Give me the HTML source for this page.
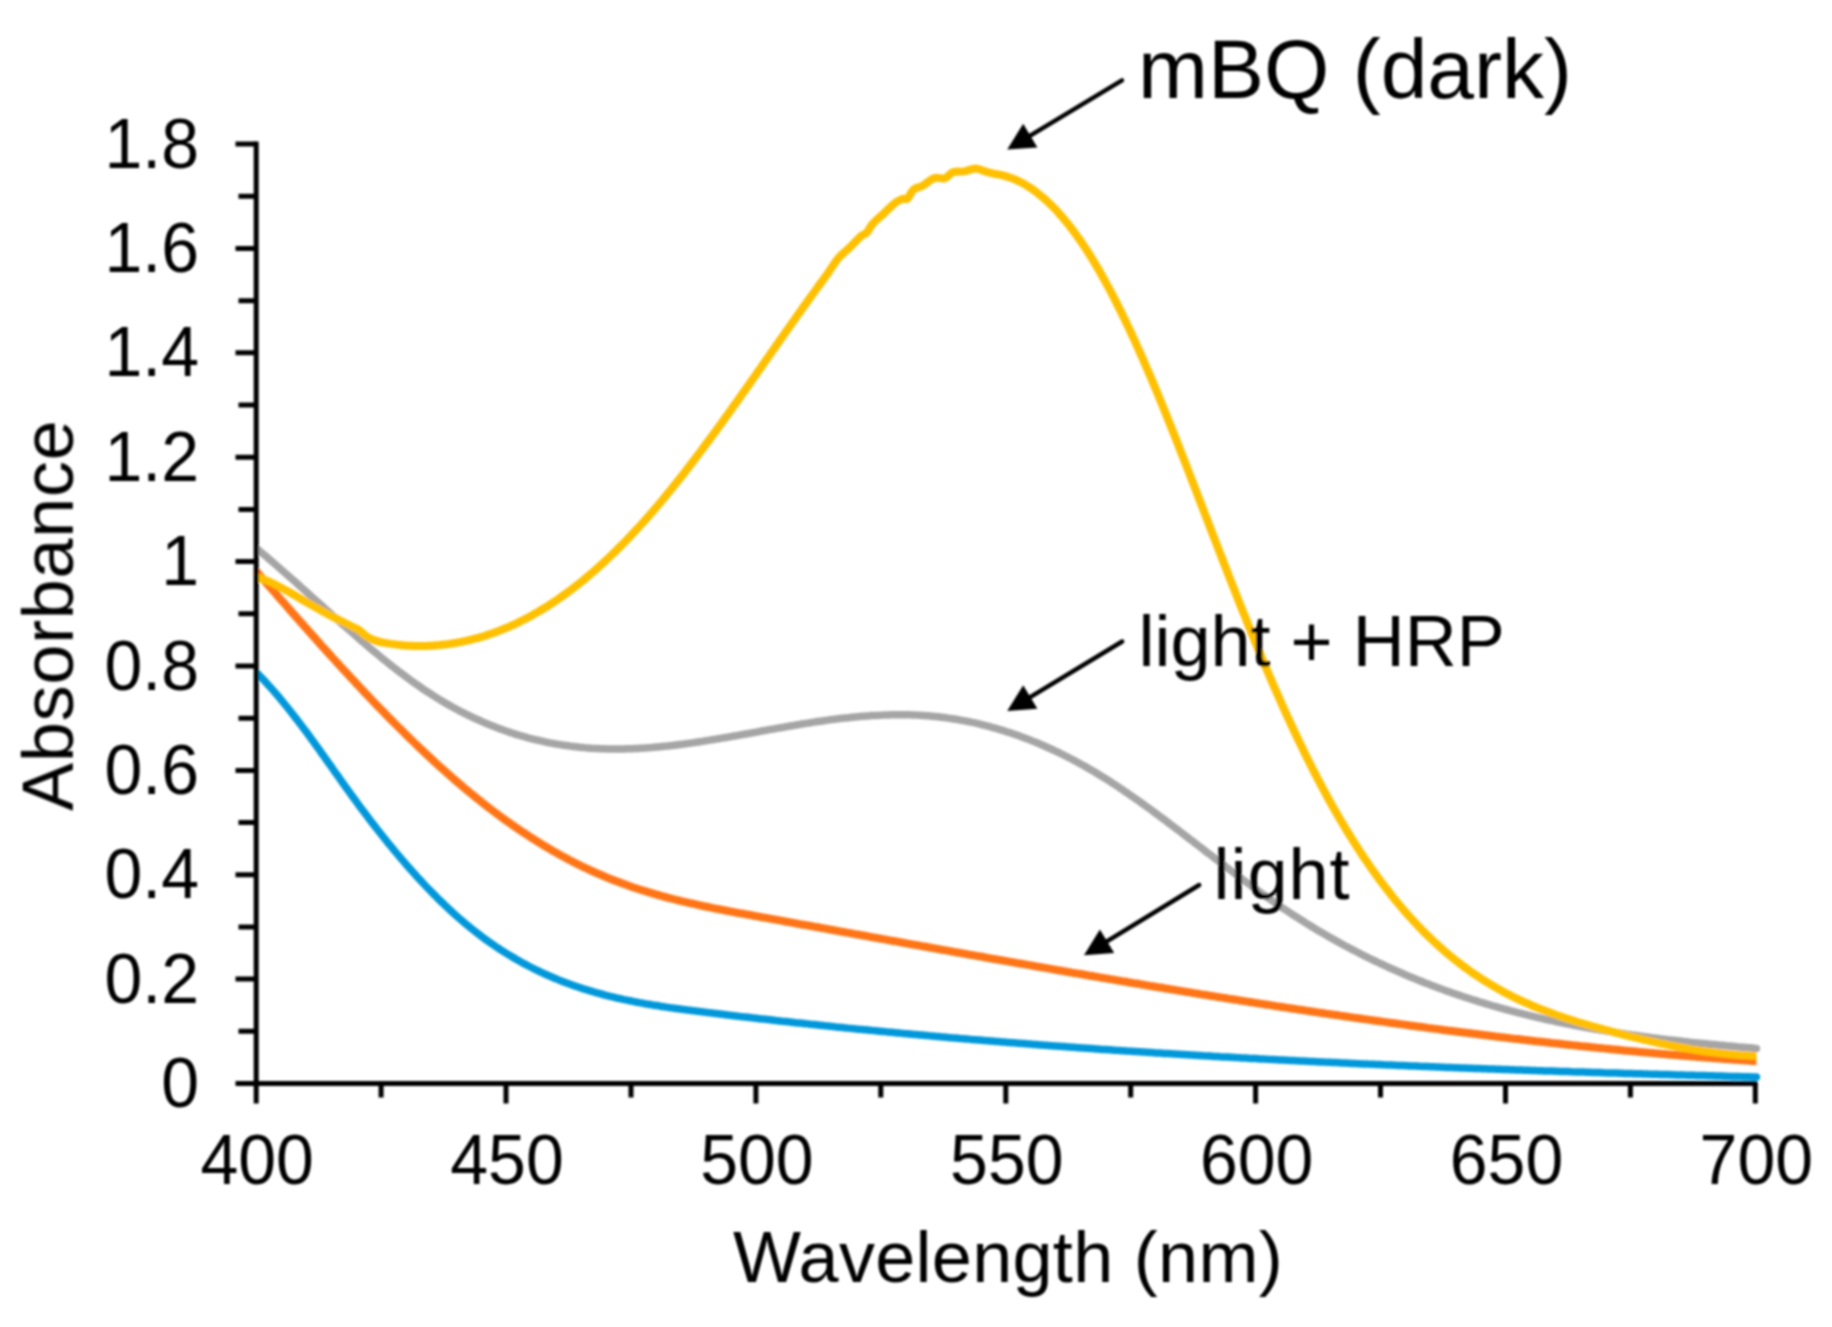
<!DOCTYPE html><html><head><meta charset="utf-8"><style>html,body{margin:0;padding:0;background:#fff;overflow:hidden;width:1832px;height:1327px;}svg{display:block;}text{font-family:"Liberation Sans",Arial,sans-serif;fill:#000;}</style></head><body>
<div id="w"><svg width="1832" height="1327" viewBox="0 0 1832 1327">
<defs><filter id="bl" x="0" y="0" width="100%" height="100%" filterUnits="userSpaceOnUse"><feGaussianBlur stdDeviation="1.00"/></filter></defs>
<rect width="1832" height="1327" fill="#fff"/>
<g filter="url(#bl)">
<path d="M256.0 672.1 C256.7 672.8 258.7 674.8 260.0 676.2 C261.3 677.5 262.7 678.9 264.0 680.3 C265.3 681.8 266.7 683.2 268.0 684.7 C269.3 686.1 270.7 687.6 272.0 689.1 C273.3 690.6 274.7 692.2 276.0 693.7 C277.3 695.3 278.7 696.8 280.0 698.4 C281.3 700.0 282.7 701.6 284.0 703.3 C285.3 704.9 286.7 706.6 288.0 708.2 C289.3 709.9 290.7 711.6 292.0 713.3 C293.3 715.0 294.7 716.7 296.0 718.4 C297.3 720.1 298.7 721.9 300.0 723.6 C301.3 725.4 302.7 727.2 304.0 728.9 C305.3 730.7 306.7 732.5 308.0 734.3 C309.3 736.1 310.7 737.9 312.0 739.8 C313.3 741.6 314.7 743.4 316.0 745.3 C317.3 747.1 318.7 749.0 320.0 750.8 C321.3 752.7 322.7 754.6 324.0 756.4 C325.3 758.3 326.7 760.2 328.0 762.1 C329.3 763.9 330.7 765.8 332.0 767.7 C333.3 769.6 334.7 771.5 336.0 773.4 C337.3 775.2 338.7 777.1 340.0 779.0 C341.3 780.9 342.7 782.8 344.0 784.6 C345.3 786.5 346.7 788.4 348.0 790.2 C349.3 792.1 350.7 793.9 352.0 795.8 C353.3 797.6 354.7 799.4 356.0 801.2 C357.3 803.1 358.7 804.9 360.0 806.7 C361.3 808.5 362.7 810.3 364.0 812.0 C365.3 813.8 366.7 815.6 368.0 817.3 C369.3 819.1 370.7 820.8 372.0 822.6 C373.3 824.3 374.7 826.0 376.0 827.7 C377.3 829.4 378.7 831.1 380.0 832.8 C381.3 834.5 382.7 836.2 384.0 837.8 C385.3 839.5 386.7 841.2 388.0 842.8 C389.3 844.4 390.7 846.1 392.0 847.7 C393.3 849.3 394.7 850.9 396.0 852.5 C397.3 854.1 398.7 855.7 400.0 857.3 C401.3 858.8 402.7 860.4 404.0 861.9 C405.3 863.5 406.7 865.0 408.0 866.5 C409.3 868.0 410.7 869.6 412.0 871.0 C413.3 872.5 414.7 874.0 416.0 875.5 C417.3 877.0 418.7 878.4 420.0 879.9 C421.3 881.3 422.7 882.7 424.0 884.1 C425.3 885.6 426.7 887.0 428.0 888.4 C429.3 889.7 430.7 891.1 432.0 892.5 C433.3 893.8 434.7 895.2 436.0 896.5 C437.3 897.9 438.7 899.2 440.0 900.5 C441.3 901.8 442.7 903.1 444.0 904.3 C445.3 905.6 446.7 906.9 448.0 908.1 C449.3 909.4 450.7 910.6 452.0 911.8 C453.3 913.1 454.7 914.3 456.0 915.4 C457.3 916.6 458.7 917.8 460.0 919.0 C461.3 920.1 462.7 921.3 464.0 922.4 C465.3 923.5 466.7 924.6 468.0 925.7 C469.3 926.8 470.7 927.9 472.0 929.0 C473.3 930.1 474.7 931.1 476.0 932.1 C477.3 933.2 478.7 934.2 480.0 935.2 C481.3 936.2 482.7 937.2 484.0 938.2 C485.3 939.2 486.7 940.2 488.0 941.1 C489.3 942.1 490.7 943.0 492.0 943.9 C493.3 944.8 494.7 945.8 496.0 946.7 C497.3 947.6 498.7 948.4 500.0 949.3 C501.3 950.2 502.7 951.0 504.0 951.9 C505.3 952.7 506.7 953.6 508.0 954.4 C509.3 955.2 510.7 956.0 512.0 956.8 C513.3 957.6 514.7 958.4 516.0 959.1 C517.3 959.9 518.7 960.7 520.0 961.4 C521.3 962.2 522.7 962.9 524.0 963.6 C525.3 964.3 526.7 965.0 528.0 965.7 C529.3 966.4 530.7 967.1 532.0 967.8 C533.3 968.5 534.7 969.1 536.0 969.8 C537.3 970.4 538.7 971.1 540.0 971.7 C541.3 972.4 542.7 973.0 544.0 973.6 C545.3 974.2 546.7 974.8 548.0 975.4 C549.3 976.0 550.7 976.6 552.0 977.1 C553.3 977.7 554.7 978.2 556.0 978.8 C557.3 979.3 558.7 979.9 560.0 980.4 C561.3 980.9 562.7 981.5 564.0 982.0 C565.3 982.5 566.7 983.0 568.0 983.5 C569.3 984.0 570.7 984.5 572.0 984.9 C573.3 985.4 574.7 985.9 576.0 986.3 C577.3 986.8 578.7 987.2 580.0 987.7 C581.3 988.1 582.7 988.6 584.0 989.0 C585.3 989.4 586.7 989.8 588.0 990.2 C589.3 990.6 590.7 991.0 592.0 991.4 C593.3 991.8 594.7 992.2 596.0 992.6 C597.3 993.0 598.7 993.3 600.0 993.7 C601.3 994.1 602.7 994.4 604.0 994.8 C605.3 995.1 606.7 995.5 608.0 995.8 C609.3 996.1 610.7 996.5 612.0 996.8 C613.3 997.1 614.7 997.4 616.0 997.8 C617.3 998.1 618.7 998.4 620.0 998.7 C621.3 999.0 622.7 999.3 624.0 999.6 C625.3 999.8 626.7 1000.1 628.0 1000.4 C629.3 1000.7 630.7 1000.9 632.0 1001.2 C633.3 1001.5 634.7 1001.7 636.0 1002.0 C637.3 1002.3 638.7 1002.5 640.0 1002.8 C641.3 1003.0 642.7 1003.2 644.0 1003.5 C645.3 1003.7 646.7 1004.0 648.0 1004.2 C649.3 1004.4 650.7 1004.6 652.0 1004.9 C653.3 1005.1 654.7 1005.3 656.0 1005.5 C657.3 1005.7 658.7 1005.9 660.0 1006.2 C661.3 1006.4 662.7 1006.6 664.0 1006.8 C665.3 1007.0 666.7 1007.2 668.0 1007.4 C669.3 1007.6 670.7 1007.7 672.0 1007.9 C673.3 1008.1 674.7 1008.3 676.0 1008.5 C677.3 1008.7 678.7 1008.9 680.0 1009.0 C681.3 1009.2 682.7 1009.4 684.0 1009.6 C685.3 1009.8 686.7 1009.9 688.0 1010.1 C689.3 1010.3 690.7 1010.4 692.0 1010.6 C693.3 1010.8 694.7 1010.9 696.0 1011.1 C697.3 1011.3 698.7 1011.4 700.0 1011.6 C701.3 1011.8 702.7 1011.9 704.0 1012.1 C705.3 1012.3 706.7 1012.4 708.0 1012.6 C709.3 1012.8 710.7 1012.9 712.0 1013.1 C713.3 1013.2 714.7 1013.4 716.0 1013.6 C717.3 1013.7 718.7 1013.9 720.0 1014.0 C721.3 1014.2 722.7 1014.4 724.0 1014.5 C725.3 1014.7 726.7 1014.8 728.0 1015.0 C729.3 1015.1 730.7 1015.3 732.0 1015.5 C733.3 1015.6 734.7 1015.8 736.0 1015.9 C737.3 1016.1 738.7 1016.2 740.0 1016.4 C741.3 1016.5 742.7 1016.7 744.0 1016.9 C745.3 1017.0 746.7 1017.2 748.0 1017.3 C749.3 1017.5 750.7 1017.6 752.0 1017.8 C753.3 1017.9 754.7 1018.1 756.0 1018.2 C757.3 1018.4 758.7 1018.5 760.0 1018.7 C761.3 1018.8 762.7 1019.0 764.0 1019.1 C765.3 1019.3 766.7 1019.4 768.0 1019.6 C769.3 1019.7 770.7 1019.9 772.0 1020.0 C773.3 1020.2 774.7 1020.3 776.0 1020.5 C777.3 1020.6 778.7 1020.8 780.0 1020.9 C781.3 1021.1 782.7 1021.2 784.0 1021.4 C785.3 1021.5 786.7 1021.7 788.0 1021.8 C789.3 1021.9 790.7 1022.1 792.0 1022.2 C793.3 1022.4 794.7 1022.5 796.0 1022.7 C797.3 1022.8 798.7 1023.0 800.0 1023.1 C801.3 1023.2 802.7 1023.4 804.0 1023.5 C805.3 1023.7 806.7 1023.8 808.0 1023.9 C809.3 1024.1 810.7 1024.2 812.0 1024.4 C813.3 1024.5 814.7 1024.7 816.0 1024.8 C817.3 1024.9 818.7 1025.1 820.0 1025.2 C821.3 1025.3 822.7 1025.5 824.0 1025.6 C825.3 1025.8 826.7 1025.9 828.0 1026.0 C829.3 1026.2 830.7 1026.3 832.0 1026.4 C833.3 1026.6 834.7 1026.7 836.0 1026.9 C837.3 1027.0 838.7 1027.1 840.0 1027.3 C841.3 1027.4 842.7 1027.5 844.0 1027.7 C845.3 1027.8 846.7 1027.9 848.0 1028.1 C849.3 1028.2 850.7 1028.3 852.0 1028.5 C853.3 1028.6 854.7 1028.7 856.0 1028.9 C857.3 1029.0 858.7 1029.1 860.0 1029.3 C861.3 1029.4 862.7 1029.5 864.0 1029.7 C865.3 1029.8 866.7 1029.9 868.0 1030.0 C869.3 1030.2 870.7 1030.3 872.0 1030.4 C873.3 1030.6 874.7 1030.7 876.0 1030.8 C877.3 1031.0 878.7 1031.1 880.0 1031.2 C881.3 1031.3 882.7 1031.5 884.0 1031.6 C885.3 1031.7 886.7 1031.8 888.0 1032.0 C889.3 1032.1 890.7 1032.2 892.0 1032.3 C893.3 1032.5 894.7 1032.6 896.0 1032.7 C897.3 1032.8 898.7 1033.0 900.0 1033.1 C901.3 1033.2 902.7 1033.3 904.0 1033.5 C905.3 1033.6 906.7 1033.7 908.0 1033.8 C909.3 1034.0 910.7 1034.1 912.0 1034.2 C913.3 1034.3 914.7 1034.4 916.0 1034.6 C917.3 1034.7 918.7 1034.8 920.0 1034.9 C921.3 1035.0 922.7 1035.2 924.0 1035.3 C925.3 1035.4 926.7 1035.5 928.0 1035.6 C929.3 1035.8 930.7 1035.9 932.0 1036.0 C933.3 1036.1 934.7 1036.2 936.0 1036.4 C937.3 1036.5 938.7 1036.6 940.0 1036.7 C941.3 1036.8 942.7 1036.9 944.0 1037.1 C945.3 1037.2 946.7 1037.3 948.0 1037.4 C949.3 1037.5 950.7 1037.6 952.0 1037.8 C953.3 1037.9 954.7 1038.0 956.0 1038.1 C957.3 1038.2 958.7 1038.3 960.0 1038.4 C961.3 1038.6 962.7 1038.7 964.0 1038.8 C965.3 1038.9 966.7 1039.0 968.0 1039.1 C969.3 1039.2 970.7 1039.3 972.0 1039.5 C973.3 1039.6 974.7 1039.7 976.0 1039.8 C977.3 1039.9 978.7 1040.0 980.0 1040.1 C981.3 1040.2 982.7 1040.3 984.0 1040.4 C985.3 1040.6 986.7 1040.7 988.0 1040.8 C989.3 1040.9 990.7 1041.0 992.0 1041.1 C993.3 1041.2 994.7 1041.3 996.0 1041.4 C997.3 1041.5 998.7 1041.6 1000.0 1041.7 C1001.3 1041.9 1002.7 1042.0 1004.0 1042.1 C1005.3 1042.2 1006.7 1042.3 1008.0 1042.4 C1009.3 1042.5 1010.7 1042.6 1012.0 1042.7 C1013.3 1042.8 1014.7 1042.9 1016.0 1043.0 C1017.3 1043.1 1018.7 1043.2 1020.0 1043.3 C1021.3 1043.4 1022.7 1043.5 1024.0 1043.6 C1025.3 1043.7 1026.7 1043.8 1028.0 1043.9 C1029.3 1044.0 1030.7 1044.1 1032.0 1044.2 C1033.3 1044.4 1034.7 1044.5 1036.0 1044.6 C1037.3 1044.7 1038.7 1044.8 1040.0 1044.9 C1041.3 1045.0 1042.7 1045.1 1044.0 1045.2 C1045.3 1045.3 1046.7 1045.4 1048.0 1045.5 C1049.3 1045.6 1050.7 1045.7 1052.0 1045.8 C1053.3 1045.9 1054.7 1046.0 1056.0 1046.0 C1057.3 1046.1 1058.7 1046.2 1060.0 1046.3 C1061.3 1046.4 1062.7 1046.5 1064.0 1046.6 C1065.3 1046.7 1066.7 1046.8 1068.0 1046.9 C1069.3 1047.0 1070.7 1047.1 1072.0 1047.2 C1073.3 1047.3 1074.7 1047.4 1076.0 1047.5 C1077.3 1047.6 1078.7 1047.7 1080.0 1047.8 C1081.3 1047.9 1082.7 1048.0 1084.0 1048.1 C1085.3 1048.2 1086.7 1048.3 1088.0 1048.3 C1089.3 1048.4 1090.7 1048.5 1092.0 1048.6 C1093.3 1048.7 1094.7 1048.8 1096.0 1048.9 C1097.3 1049.0 1098.7 1049.1 1100.0 1049.2 C1101.3 1049.3 1102.7 1049.4 1104.0 1049.4 C1105.3 1049.5 1106.7 1049.6 1108.0 1049.7 C1109.3 1049.8 1110.7 1049.9 1112.0 1050.0 C1113.3 1050.1 1114.7 1050.2 1116.0 1050.3 C1117.3 1050.3 1118.7 1050.4 1120.0 1050.5 C1121.3 1050.6 1122.7 1050.7 1124.0 1050.8 C1125.3 1050.9 1126.7 1051.0 1128.0 1051.1 C1129.3 1051.1 1130.7 1051.2 1132.0 1051.3 C1133.3 1051.4 1134.7 1051.5 1136.0 1051.6 C1137.3 1051.7 1138.7 1051.8 1140.0 1051.8 C1141.3 1051.9 1142.7 1052.0 1144.0 1052.1 C1145.3 1052.2 1146.7 1052.3 1148.0 1052.3 C1149.3 1052.4 1150.7 1052.5 1152.0 1052.6 C1153.3 1052.7 1154.7 1052.8 1156.0 1052.9 C1157.3 1052.9 1158.7 1053.0 1160.0 1053.1 C1161.3 1053.2 1162.7 1053.3 1164.0 1053.4 C1165.3 1053.4 1166.7 1053.5 1168.0 1053.6 C1169.3 1053.7 1170.7 1053.8 1172.0 1053.8 C1173.3 1053.9 1174.7 1054.0 1176.0 1054.1 C1177.3 1054.2 1178.7 1054.3 1180.0 1054.3 C1181.3 1054.4 1182.7 1054.5 1184.0 1054.6 C1185.3 1054.7 1186.7 1054.7 1188.0 1054.8 C1189.3 1054.9 1190.7 1055.0 1192.0 1055.0 C1193.3 1055.1 1194.7 1055.2 1196.0 1055.3 C1197.3 1055.4 1198.7 1055.4 1200.0 1055.5 C1201.3 1055.6 1202.7 1055.7 1204.0 1055.8 C1205.3 1055.8 1206.7 1055.9 1208.0 1056.0 C1209.3 1056.1 1210.7 1056.1 1212.0 1056.2 C1213.3 1056.3 1214.7 1056.4 1216.0 1056.4 C1217.3 1056.5 1218.7 1056.6 1220.0 1056.7 C1221.3 1056.7 1222.7 1056.8 1224.0 1056.9 C1225.3 1057.0 1226.7 1057.0 1228.0 1057.1 C1229.3 1057.2 1230.7 1057.3 1232.0 1057.3 C1233.3 1057.4 1234.7 1057.5 1236.0 1057.6 C1237.3 1057.6 1238.7 1057.7 1240.0 1057.8 C1241.3 1057.9 1242.7 1057.9 1244.0 1058.0 C1245.3 1058.1 1246.7 1058.1 1248.0 1058.2 C1249.3 1058.3 1250.7 1058.4 1252.0 1058.4 C1253.3 1058.5 1254.7 1058.6 1256.0 1058.6 C1257.3 1058.7 1258.7 1058.8 1260.0 1058.9 C1261.3 1058.9 1262.7 1059.0 1264.0 1059.1 C1265.3 1059.1 1266.7 1059.2 1268.0 1059.3 C1269.3 1059.3 1270.7 1059.4 1272.0 1059.5 C1273.3 1059.6 1274.7 1059.6 1276.0 1059.7 C1277.3 1059.8 1278.7 1059.8 1280.0 1059.9 C1281.3 1060.0 1282.7 1060.0 1284.0 1060.1 C1285.3 1060.2 1286.7 1060.2 1288.0 1060.3 C1289.3 1060.4 1290.7 1060.4 1292.0 1060.5 C1293.3 1060.6 1294.7 1060.6 1296.0 1060.7 C1297.3 1060.8 1298.7 1060.8 1300.0 1060.9 C1301.3 1061.0 1302.7 1061.0 1304.0 1061.1 C1305.3 1061.2 1306.7 1061.2 1308.0 1061.3 C1309.3 1061.4 1310.7 1061.4 1312.0 1061.5 C1313.3 1061.6 1314.7 1061.6 1316.0 1061.7 C1317.3 1061.8 1318.7 1061.8 1320.0 1061.9 C1321.3 1061.9 1322.7 1062.0 1324.0 1062.1 C1325.3 1062.1 1326.7 1062.2 1328.0 1062.3 C1329.3 1062.3 1330.7 1062.4 1332.0 1062.4 C1333.3 1062.5 1334.7 1062.6 1336.0 1062.6 C1337.3 1062.7 1338.7 1062.8 1340.0 1062.8 C1341.3 1062.9 1342.7 1062.9 1344.0 1063.0 C1345.3 1063.1 1346.7 1063.1 1348.0 1063.2 C1349.3 1063.3 1350.7 1063.3 1352.0 1063.4 C1353.3 1063.4 1354.7 1063.5 1356.0 1063.6 C1357.3 1063.6 1358.7 1063.7 1360.0 1063.7 C1361.3 1063.8 1362.7 1063.9 1364.0 1063.9 C1365.3 1064.0 1366.7 1064.0 1368.0 1064.1 C1369.3 1064.1 1370.7 1064.2 1372.0 1064.3 C1373.3 1064.3 1374.7 1064.4 1376.0 1064.4 C1377.3 1064.5 1378.7 1064.6 1380.0 1064.6 C1381.3 1064.7 1382.7 1064.7 1384.0 1064.8 C1385.3 1064.8 1386.7 1064.9 1388.0 1065.0 C1389.3 1065.0 1390.7 1065.1 1392.0 1065.1 C1393.3 1065.2 1394.7 1065.2 1396.0 1065.3 C1397.3 1065.4 1398.7 1065.4 1400.0 1065.5 C1401.3 1065.5 1402.7 1065.6 1404.0 1065.6 C1405.3 1065.7 1406.7 1065.7 1408.0 1065.8 C1409.3 1065.9 1410.7 1065.9 1412.0 1066.0 C1413.3 1066.0 1414.7 1066.1 1416.0 1066.1 C1417.3 1066.2 1418.7 1066.2 1420.0 1066.3 C1421.3 1066.3 1422.7 1066.4 1424.0 1066.5 C1425.3 1066.5 1426.7 1066.6 1428.0 1066.6 C1429.3 1066.7 1430.7 1066.7 1432.0 1066.8 C1433.3 1066.8 1434.7 1066.9 1436.0 1066.9 C1437.3 1067.0 1438.7 1067.0 1440.0 1067.1 C1441.3 1067.1 1442.7 1067.2 1444.0 1067.2 C1445.3 1067.3 1446.7 1067.4 1448.0 1067.4 C1449.3 1067.5 1450.7 1067.5 1452.0 1067.6 C1453.3 1067.6 1454.7 1067.7 1456.0 1067.7 C1457.3 1067.8 1458.7 1067.8 1460.0 1067.9 C1461.3 1067.9 1462.7 1068.0 1464.0 1068.0 C1465.3 1068.1 1466.7 1068.1 1468.0 1068.2 C1469.3 1068.2 1470.7 1068.3 1472.0 1068.3 C1473.3 1068.4 1474.7 1068.4 1476.0 1068.5 C1477.3 1068.5 1478.7 1068.6 1480.0 1068.6 C1481.3 1068.7 1482.7 1068.7 1484.0 1068.8 C1485.3 1068.8 1486.7 1068.9 1488.0 1068.9 C1489.3 1069.0 1490.7 1069.0 1492.0 1069.0 C1493.3 1069.1 1494.7 1069.1 1496.0 1069.2 C1497.3 1069.2 1498.7 1069.3 1500.0 1069.3 C1501.3 1069.4 1502.7 1069.4 1504.0 1069.5 C1505.3 1069.5 1506.7 1069.6 1508.0 1069.6 C1509.3 1069.7 1510.7 1069.7 1512.0 1069.8 C1513.3 1069.8 1514.7 1069.9 1516.0 1069.9 C1517.3 1069.9 1518.7 1070.0 1520.0 1070.0 C1521.3 1070.1 1522.7 1070.1 1524.0 1070.2 C1525.3 1070.2 1526.7 1070.3 1528.0 1070.3 C1529.3 1070.4 1530.7 1070.4 1532.0 1070.4 C1533.3 1070.5 1534.7 1070.5 1536.0 1070.6 C1537.3 1070.6 1538.7 1070.7 1540.0 1070.7 C1541.3 1070.8 1542.7 1070.8 1544.0 1070.9 C1545.3 1070.9 1546.7 1070.9 1548.0 1071.0 C1549.3 1071.0 1550.7 1071.1 1552.0 1071.1 C1553.3 1071.2 1554.7 1071.2 1556.0 1071.2 C1557.3 1071.3 1558.7 1071.3 1560.0 1071.4 C1561.3 1071.4 1562.7 1071.5 1564.0 1071.5 C1565.3 1071.5 1566.7 1071.6 1568.0 1071.6 C1569.3 1071.7 1570.7 1071.7 1572.0 1071.8 C1573.3 1071.8 1574.7 1071.8 1576.0 1071.9 C1577.3 1071.9 1578.7 1072.0 1580.0 1072.0 C1581.3 1072.1 1582.7 1072.1 1584.0 1072.1 C1585.3 1072.2 1586.7 1072.2 1588.0 1072.3 C1589.3 1072.3 1590.7 1072.4 1592.0 1072.4 C1593.3 1072.4 1594.7 1072.5 1596.0 1072.5 C1597.3 1072.6 1598.7 1072.6 1600.0 1072.6 C1601.3 1072.7 1602.7 1072.7 1604.0 1072.8 C1605.3 1072.8 1606.7 1072.8 1608.0 1072.9 C1609.3 1072.9 1610.7 1073.0 1612.0 1073.0 C1613.3 1073.0 1614.7 1073.1 1616.0 1073.1 C1617.3 1073.2 1618.7 1073.2 1620.0 1073.2 C1621.3 1073.3 1622.7 1073.3 1624.0 1073.4 C1625.3 1073.4 1626.7 1073.4 1628.0 1073.5 C1629.3 1073.5 1630.7 1073.6 1632.0 1073.6 C1633.3 1073.6 1634.7 1073.7 1636.0 1073.7 C1637.3 1073.8 1638.7 1073.8 1640.0 1073.8 C1641.3 1073.9 1642.7 1073.9 1644.0 1073.9 C1645.3 1074.0 1646.7 1074.0 1648.0 1074.1 C1649.3 1074.1 1650.7 1074.1 1652.0 1074.2 C1653.3 1074.2 1654.7 1074.3 1656.0 1074.3 C1657.3 1074.3 1658.7 1074.4 1660.0 1074.4 C1661.3 1074.4 1662.7 1074.5 1664.0 1074.5 C1665.3 1074.6 1666.7 1074.6 1668.0 1074.6 C1669.3 1074.7 1670.7 1074.7 1672.0 1074.7 C1673.3 1074.8 1674.7 1074.8 1676.0 1074.9 C1677.3 1074.9 1678.7 1074.9 1680.0 1075.0 C1681.3 1075.0 1682.7 1075.0 1684.0 1075.1 C1685.3 1075.1 1686.7 1075.1 1688.0 1075.2 C1689.3 1075.2 1690.7 1075.3 1692.0 1075.3 C1693.3 1075.3 1694.7 1075.4 1696.0 1075.4 C1697.3 1075.4 1698.7 1075.5 1700.0 1075.5 C1701.3 1075.5 1702.7 1075.6 1704.0 1075.6 C1705.3 1075.7 1706.7 1075.7 1708.0 1075.7 C1709.3 1075.8 1710.7 1075.8 1712.0 1075.8 C1713.3 1075.9 1714.7 1075.9 1716.0 1075.9 C1717.3 1076.0 1718.7 1076.0 1720.0 1076.0 C1721.3 1076.1 1722.7 1076.1 1724.0 1076.2 C1725.3 1076.2 1726.7 1076.2 1728.0 1076.3 C1729.3 1076.3 1730.7 1076.3 1732.0 1076.4 C1733.3 1076.4 1734.7 1076.4 1736.0 1076.5 C1737.3 1076.5 1738.7 1076.5 1740.0 1076.6 C1741.3 1076.6 1742.7 1076.6 1744.0 1076.7 C1745.3 1076.7 1746.7 1076.7 1748.0 1076.8 C1749.3 1076.8 1750.7 1076.8 1752.0 1076.9 C1753.3 1076.9 1755.3 1077.0 1756.0 1077.0 C1756.7 1077.0 1756.3 1077.0 1756.4 1077.0" fill="none" stroke="#0098DA" stroke-width="7.5" stroke-linejoin="round"/>
<path d="M256.0 571.0 C256.7 571.8 258.7 574.1 260.0 575.6 C261.3 577.2 262.7 578.7 264.0 580.2 C265.3 581.8 266.7 583.3 268.0 584.8 C269.3 586.3 270.7 587.9 272.0 589.4 C273.3 590.9 274.7 592.5 276.0 594.0 C277.3 595.5 278.7 597.0 280.0 598.6 C281.3 600.1 282.7 601.6 284.0 603.1 C285.3 604.7 286.7 606.2 288.0 607.7 C289.3 609.2 290.7 610.7 292.0 612.3 C293.3 613.8 294.7 615.3 296.0 616.8 C297.3 618.3 298.7 619.8 300.0 621.3 C301.3 622.8 302.7 624.3 304.0 625.8 C305.3 627.3 306.7 628.8 308.0 630.3 C309.3 631.8 310.7 633.3 312.0 634.8 C313.3 636.3 314.7 637.8 316.0 639.3 C317.3 640.8 318.7 642.3 320.0 643.8 C321.3 645.3 322.7 646.8 324.0 648.2 C325.3 649.7 326.7 651.2 328.0 652.7 C329.3 654.1 330.7 655.6 332.0 657.1 C333.3 658.5 334.7 660.0 336.0 661.5 C337.3 662.9 338.7 664.4 340.0 665.9 C341.3 667.3 342.7 668.8 344.0 670.2 C345.3 671.7 346.7 673.1 348.0 674.5 C349.3 676.0 350.7 677.4 352.0 678.9 C353.3 680.3 354.7 681.7 356.0 683.2 C357.3 684.6 358.7 686.0 360.0 687.4 C361.3 688.8 362.7 690.3 364.0 691.7 C365.3 693.1 366.7 694.5 368.0 695.9 C369.3 697.3 370.7 698.7 372.0 700.1 C373.3 701.5 374.7 702.9 376.0 704.3 C377.3 705.6 378.7 707.0 380.0 708.4 C381.3 709.8 382.7 711.1 384.0 712.5 C385.3 713.9 386.7 715.2 388.0 716.6 C389.3 718.0 390.7 719.3 392.0 720.7 C393.3 722.0 394.7 723.3 396.0 724.7 C397.3 726.0 398.7 727.3 400.0 728.7 C401.3 730.0 402.7 731.3 404.0 732.6 C405.3 734.0 406.7 735.3 408.0 736.6 C409.3 737.9 410.7 739.2 412.0 740.5 C413.3 741.8 414.7 743.0 416.0 744.3 C417.3 745.6 418.7 746.9 420.0 748.2 C421.3 749.4 422.7 750.7 424.0 751.9 C425.3 753.2 426.7 754.5 428.0 755.7 C429.3 756.9 430.7 758.2 432.0 759.4 C433.3 760.7 434.7 761.9 436.0 763.1 C437.3 764.3 438.7 765.5 440.0 766.7 C441.3 767.9 442.7 769.1 444.0 770.3 C445.3 771.5 446.7 772.7 448.0 773.9 C449.3 775.1 450.7 776.2 452.0 777.4 C453.3 778.6 454.7 779.7 456.0 780.9 C457.3 782.0 458.7 783.2 460.0 784.3 C461.3 785.5 462.7 786.6 464.0 787.7 C465.3 788.8 466.7 789.9 468.0 791.0 C469.3 792.2 470.7 793.3 472.0 794.3 C473.3 795.4 474.7 796.5 476.0 797.6 C477.3 798.7 478.7 799.7 480.0 800.8 C481.3 801.9 482.7 802.9 484.0 804.0 C485.3 805.0 486.7 806.0 488.0 807.1 C489.3 808.1 490.7 809.1 492.0 810.1 C493.3 811.1 494.7 812.1 496.0 813.1 C497.3 814.1 498.7 815.1 500.0 816.1 C501.3 817.1 502.7 818.1 504.0 819.0 C505.3 820.0 506.7 820.9 508.0 821.9 C509.3 822.8 510.7 823.8 512.0 824.7 C513.3 825.6 514.7 826.6 516.0 827.5 C517.3 828.4 518.7 829.3 520.0 830.2 C521.3 831.1 522.7 832.0 524.0 832.9 C525.3 833.8 526.7 834.6 528.0 835.5 C529.3 836.4 530.7 837.2 532.0 838.1 C533.3 839.0 534.7 839.8 536.0 840.6 C537.3 841.5 538.7 842.3 540.0 843.1 C541.3 843.9 542.7 844.8 544.0 845.6 C545.3 846.4 546.7 847.2 548.0 847.9 C549.3 848.7 550.7 849.5 552.0 850.3 C553.3 851.1 554.7 851.8 556.0 852.6 C557.3 853.3 558.7 854.1 560.0 854.8 C561.3 855.6 562.7 856.3 564.0 857.0 C565.3 857.7 566.7 858.5 568.0 859.2 C569.3 859.9 570.7 860.6 572.0 861.3 C573.3 861.9 574.7 862.6 576.0 863.3 C577.3 864.0 578.7 864.6 580.0 865.3 C581.3 866.0 582.7 866.6 584.0 867.3 C585.3 867.9 586.7 868.5 588.0 869.2 C589.3 869.8 590.7 870.4 592.0 871.0 C593.3 871.6 594.7 872.2 596.0 872.8 C597.3 873.4 598.7 874.0 600.0 874.6 C601.3 875.1 602.7 875.7 604.0 876.3 C605.3 876.8 606.7 877.4 608.0 877.9 C609.3 878.5 610.7 879.0 612.0 879.5 C613.3 880.1 614.7 880.6 616.0 881.1 C617.3 881.6 618.7 882.1 620.0 882.6 C621.3 883.1 622.7 883.6 624.0 884.1 C625.3 884.6 626.7 885.0 628.0 885.5 C629.3 886.0 630.7 886.4 632.0 886.9 C633.3 887.4 634.7 887.8 636.0 888.2 C637.3 888.7 638.7 889.1 640.0 889.5 C641.3 890.0 642.7 890.4 644.0 890.8 C645.3 891.2 646.7 891.6 648.0 892.0 C649.3 892.5 650.7 892.9 652.0 893.2 C653.3 893.6 654.7 894.0 656.0 894.4 C657.3 894.8 658.7 895.2 660.0 895.5 C661.3 895.9 662.7 896.3 664.0 896.6 C665.3 897.0 666.7 897.4 668.0 897.7 C669.3 898.1 670.7 898.4 672.0 898.7 C673.3 899.1 674.7 899.4 676.0 899.8 C677.3 900.1 678.7 900.4 680.0 900.7 C681.3 901.1 682.7 901.4 684.0 901.7 C685.3 902.0 686.7 902.3 688.0 902.6 C689.3 902.9 690.7 903.2 692.0 903.5 C693.3 903.8 694.7 904.1 696.0 904.4 C697.3 904.7 698.7 905.0 700.0 905.3 C701.3 905.6 702.7 905.9 704.0 906.2 C705.3 906.4 706.7 906.7 708.0 907.0 C709.3 907.3 710.7 907.5 712.0 907.8 C713.3 908.1 714.7 908.4 716.0 908.6 C717.3 908.9 718.7 909.1 720.0 909.4 C721.3 909.7 722.7 909.9 724.0 910.2 C725.3 910.4 726.7 910.7 728.0 911.0 C729.3 911.2 730.7 911.5 732.0 911.7 C733.3 912.0 734.7 912.2 736.0 912.5 C737.3 912.7 738.7 913.0 740.0 913.2 C741.3 913.4 742.7 913.7 744.0 913.9 C745.3 914.2 746.7 914.4 748.0 914.7 C749.3 914.9 750.7 915.1 752.0 915.4 C753.3 915.6 754.7 915.9 756.0 916.1 C757.3 916.4 758.7 916.6 760.0 916.8 C761.3 917.1 762.7 917.3 764.0 917.6 C765.3 917.8 766.7 918.0 768.0 918.3 C769.3 918.5 770.7 918.8 772.0 919.0 C773.3 919.2 774.7 919.5 776.0 919.7 C777.3 920.0 778.7 920.2 780.0 920.4 C781.3 920.7 782.7 920.9 784.0 921.2 C785.3 921.4 786.7 921.7 788.0 921.9 C789.3 922.1 790.7 922.4 792.0 922.6 C793.3 922.9 794.7 923.1 796.0 923.3 C797.3 923.6 798.7 923.8 800.0 924.1 C801.3 924.3 802.7 924.6 804.0 924.8 C805.3 925.0 806.7 925.3 808.0 925.5 C809.3 925.8 810.7 926.0 812.0 926.2 C813.3 926.5 814.7 926.7 816.0 927.0 C817.3 927.2 818.7 927.4 820.0 927.7 C821.3 927.9 822.7 928.2 824.0 928.4 C825.3 928.7 826.7 928.9 828.0 929.1 C829.3 929.4 830.7 929.6 832.0 929.9 C833.3 930.1 834.7 930.3 836.0 930.6 C837.3 930.8 838.7 931.1 840.0 931.3 C841.3 931.6 842.7 931.8 844.0 932.0 C845.3 932.3 846.7 932.5 848.0 932.8 C849.3 933.0 850.7 933.2 852.0 933.5 C853.3 933.7 854.7 934.0 856.0 934.2 C857.3 934.4 858.7 934.7 860.0 934.9 C861.3 935.2 862.7 935.4 864.0 935.7 C865.3 935.9 866.7 936.1 868.0 936.4 C869.3 936.6 870.7 936.9 872.0 937.1 C873.3 937.3 874.7 937.6 876.0 937.8 C877.3 938.1 878.7 938.3 880.0 938.5 C881.3 938.8 882.7 939.0 884.0 939.3 C885.3 939.5 886.7 939.7 888.0 940.0 C889.3 940.2 890.7 940.5 892.0 940.7 C893.3 940.9 894.7 941.2 896.0 941.4 C897.3 941.7 898.7 941.9 900.0 942.1 C901.3 942.4 902.7 942.6 904.0 942.9 C905.3 943.1 906.7 943.4 908.0 943.6 C909.3 943.8 910.7 944.1 912.0 944.3 C913.3 944.6 914.7 944.8 916.0 945.0 C917.3 945.3 918.7 945.5 920.0 945.7 C921.3 946.0 922.7 946.2 924.0 946.5 C925.3 946.7 926.7 946.9 928.0 947.2 C929.3 947.4 930.7 947.7 932.0 947.9 C933.3 948.1 934.7 948.4 936.0 948.6 C937.3 948.9 938.7 949.1 940.0 949.3 C941.3 949.6 942.7 949.8 944.0 950.1 C945.3 950.3 946.7 950.5 948.0 950.8 C949.3 951.0 950.7 951.2 952.0 951.5 C953.3 951.7 954.7 952.0 956.0 952.2 C957.3 952.4 958.7 952.7 960.0 952.9 C961.3 953.2 962.7 953.4 964.0 953.6 C965.3 953.9 966.7 954.1 968.0 954.3 C969.3 954.6 970.7 954.8 972.0 955.1 C973.3 955.3 974.7 955.5 976.0 955.8 C977.3 956.0 978.7 956.2 980.0 956.5 C981.3 956.7 982.7 956.9 984.0 957.2 C985.3 957.4 986.7 957.7 988.0 957.9 C989.3 958.1 990.7 958.4 992.0 958.6 C993.3 958.8 994.7 959.1 996.0 959.3 C997.3 959.5 998.7 959.8 1000.0 960.0 C1001.3 960.3 1002.7 960.5 1004.0 960.7 C1005.3 961.0 1006.7 961.2 1008.0 961.4 C1009.3 961.7 1010.7 961.9 1012.0 962.1 C1013.3 962.4 1014.7 962.6 1016.0 962.8 C1017.3 963.1 1018.7 963.3 1020.0 963.5 C1021.3 963.8 1022.7 964.0 1024.0 964.2 C1025.3 964.5 1026.7 964.7 1028.0 964.9 C1029.3 965.2 1030.7 965.4 1032.0 965.6 C1033.3 965.9 1034.7 966.1 1036.0 966.3 C1037.3 966.6 1038.7 966.8 1040.0 967.0 C1041.3 967.3 1042.7 967.5 1044.0 967.7 C1045.3 968.0 1046.7 968.2 1048.0 968.4 C1049.3 968.7 1050.7 968.9 1052.0 969.1 C1053.3 969.4 1054.7 969.6 1056.0 969.8 C1057.3 970.1 1058.7 970.3 1060.0 970.5 C1061.3 970.8 1062.7 971.0 1064.0 971.2 C1065.3 971.4 1066.7 971.7 1068.0 971.9 C1069.3 972.1 1070.7 972.4 1072.0 972.6 C1073.3 972.8 1074.7 973.1 1076.0 973.3 C1077.3 973.5 1078.7 973.7 1080.0 974.0 C1081.3 974.2 1082.7 974.4 1084.0 974.7 C1085.3 974.9 1086.7 975.1 1088.0 975.4 C1089.3 975.6 1090.7 975.8 1092.0 976.0 C1093.3 976.3 1094.7 976.5 1096.0 976.7 C1097.3 977.0 1098.7 977.2 1100.0 977.4 C1101.3 977.6 1102.7 977.9 1104.0 978.1 C1105.3 978.3 1106.7 978.5 1108.0 978.8 C1109.3 979.0 1110.7 979.2 1112.0 979.4 C1113.3 979.7 1114.7 979.9 1116.0 980.1 C1117.3 980.4 1118.7 980.6 1120.0 980.8 C1121.3 981.0 1122.7 981.3 1124.0 981.5 C1125.3 981.7 1126.7 981.9 1128.0 982.2 C1129.3 982.4 1130.7 982.6 1132.0 982.8 C1133.3 983.1 1134.7 983.3 1136.0 983.5 C1137.3 983.7 1138.7 983.9 1140.0 984.2 C1141.3 984.4 1142.7 984.6 1144.0 984.8 C1145.3 985.1 1146.7 985.3 1148.0 985.5 C1149.3 985.7 1150.7 986.0 1152.0 986.2 C1153.3 986.4 1154.7 986.6 1156.0 986.8 C1157.3 987.1 1158.7 987.3 1160.0 987.5 C1161.3 987.7 1162.7 987.9 1164.0 988.2 C1165.3 988.4 1166.7 988.6 1168.0 988.8 C1169.3 989.0 1170.7 989.3 1172.0 989.5 C1173.3 989.7 1174.7 989.9 1176.0 990.1 C1177.3 990.4 1178.7 990.6 1180.0 990.8 C1181.3 991.0 1182.7 991.2 1184.0 991.5 C1185.3 991.7 1186.7 991.9 1188.0 992.1 C1189.3 992.3 1190.7 992.5 1192.0 992.8 C1193.3 993.0 1194.7 993.2 1196.0 993.4 C1197.3 993.6 1198.7 993.8 1200.0 994.1 C1201.3 994.3 1202.7 994.5 1204.0 994.7 C1205.3 994.9 1206.7 995.1 1208.0 995.3 C1209.3 995.6 1210.7 995.8 1212.0 996.0 C1213.3 996.2 1214.7 996.4 1216.0 996.6 C1217.3 996.8 1218.7 997.1 1220.0 997.3 C1221.3 997.5 1222.7 997.7 1224.0 997.9 C1225.3 998.1 1226.7 998.3 1228.0 998.6 C1229.3 998.8 1230.7 999.0 1232.0 999.2 C1233.3 999.4 1234.7 999.6 1236.0 999.8 C1237.3 1000.0 1238.7 1000.2 1240.0 1000.5 C1241.3 1000.7 1242.7 1000.9 1244.0 1001.1 C1245.3 1001.3 1246.7 1001.5 1248.0 1001.7 C1249.3 1001.9 1250.7 1002.1 1252.0 1002.3 C1253.3 1002.5 1254.7 1002.8 1256.0 1003.0 C1257.3 1003.2 1258.7 1003.4 1260.0 1003.6 C1261.3 1003.8 1262.7 1004.0 1264.0 1004.2 C1265.3 1004.4 1266.7 1004.6 1268.0 1004.8 C1269.3 1005.0 1270.7 1005.2 1272.0 1005.4 C1273.3 1005.6 1274.7 1005.9 1276.0 1006.1 C1277.3 1006.3 1278.7 1006.5 1280.0 1006.7 C1281.3 1006.9 1282.7 1007.1 1284.0 1007.3 C1285.3 1007.5 1286.7 1007.7 1288.0 1007.9 C1289.3 1008.1 1290.7 1008.3 1292.0 1008.5 C1293.3 1008.7 1294.7 1008.9 1296.0 1009.1 C1297.3 1009.3 1298.7 1009.5 1300.0 1009.7 C1301.3 1009.9 1302.7 1010.1 1304.0 1010.3 C1305.3 1010.5 1306.7 1010.7 1308.0 1010.9 C1309.3 1011.1 1310.7 1011.3 1312.0 1011.5 C1313.3 1011.7 1314.7 1011.9 1316.0 1012.1 C1317.3 1012.3 1318.7 1012.5 1320.0 1012.7 C1321.3 1012.9 1322.7 1013.1 1324.0 1013.3 C1325.3 1013.5 1326.7 1013.7 1328.0 1013.9 C1329.3 1014.1 1330.7 1014.3 1332.0 1014.5 C1333.3 1014.7 1334.7 1014.9 1336.0 1015.0 C1337.3 1015.2 1338.7 1015.4 1340.0 1015.6 C1341.3 1015.8 1342.7 1016.0 1344.0 1016.2 C1345.3 1016.4 1346.7 1016.6 1348.0 1016.8 C1349.3 1017.0 1350.7 1017.2 1352.0 1017.4 C1353.3 1017.6 1354.7 1017.7 1356.0 1017.9 C1357.3 1018.1 1358.7 1018.3 1360.0 1018.5 C1361.3 1018.7 1362.7 1018.9 1364.0 1019.1 C1365.3 1019.3 1366.7 1019.5 1368.0 1019.6 C1369.3 1019.8 1370.7 1020.0 1372.0 1020.2 C1373.3 1020.4 1374.7 1020.6 1376.0 1020.8 C1377.3 1021.0 1378.7 1021.1 1380.0 1021.3 C1381.3 1021.5 1382.7 1021.7 1384.0 1021.9 C1385.3 1022.1 1386.7 1022.3 1388.0 1022.4 C1389.3 1022.6 1390.7 1022.8 1392.0 1023.0 C1393.3 1023.2 1394.7 1023.4 1396.0 1023.5 C1397.3 1023.7 1398.7 1023.9 1400.0 1024.1 C1401.3 1024.3 1402.7 1024.5 1404.0 1024.6 C1405.3 1024.8 1406.7 1025.0 1408.0 1025.2 C1409.3 1025.4 1410.7 1025.5 1412.0 1025.7 C1413.3 1025.9 1414.7 1026.1 1416.0 1026.3 C1417.3 1026.4 1418.7 1026.6 1420.0 1026.8 C1421.3 1027.0 1422.7 1027.2 1424.0 1027.3 C1425.3 1027.5 1426.7 1027.7 1428.0 1027.9 C1429.3 1028.0 1430.7 1028.2 1432.0 1028.4 C1433.3 1028.6 1434.7 1028.7 1436.0 1028.9 C1437.3 1029.1 1438.7 1029.3 1440.0 1029.4 C1441.3 1029.6 1442.7 1029.8 1444.0 1030.0 C1445.3 1030.1 1446.7 1030.3 1448.0 1030.5 C1449.3 1030.6 1450.7 1030.8 1452.0 1031.0 C1453.3 1031.2 1454.7 1031.3 1456.0 1031.5 C1457.3 1031.7 1458.7 1031.8 1460.0 1032.0 C1461.3 1032.2 1462.7 1032.3 1464.0 1032.5 C1465.3 1032.7 1466.7 1032.9 1468.0 1033.0 C1469.3 1033.2 1470.7 1033.4 1472.0 1033.5 C1473.3 1033.7 1474.7 1033.9 1476.0 1034.0 C1477.3 1034.2 1478.7 1034.4 1480.0 1034.5 C1481.3 1034.7 1482.7 1034.8 1484.0 1035.0 C1485.3 1035.2 1486.7 1035.3 1488.0 1035.5 C1489.3 1035.7 1490.7 1035.8 1492.0 1036.0 C1493.3 1036.2 1494.7 1036.3 1496.0 1036.5 C1497.3 1036.6 1498.7 1036.8 1500.0 1037.0 C1501.3 1037.1 1502.7 1037.3 1504.0 1037.4 C1505.3 1037.6 1506.7 1037.8 1508.0 1037.9 C1509.3 1038.1 1510.7 1038.2 1512.0 1038.4 C1513.3 1038.5 1514.7 1038.7 1516.0 1038.9 C1517.3 1039.0 1518.7 1039.2 1520.0 1039.3 C1521.3 1039.5 1522.7 1039.6 1524.0 1039.8 C1525.3 1039.9 1526.7 1040.1 1528.0 1040.2 C1529.3 1040.4 1530.7 1040.6 1532.0 1040.7 C1533.3 1040.9 1534.7 1041.0 1536.0 1041.2 C1537.3 1041.3 1538.7 1041.5 1540.0 1041.6 C1541.3 1041.8 1542.7 1041.9 1544.0 1042.1 C1545.3 1042.2 1546.7 1042.4 1548.0 1042.5 C1549.3 1042.7 1550.7 1042.8 1552.0 1043.0 C1553.3 1043.1 1554.7 1043.2 1556.0 1043.4 C1557.3 1043.5 1558.7 1043.7 1560.0 1043.8 C1561.3 1044.0 1562.7 1044.1 1564.0 1044.3 C1565.3 1044.4 1566.7 1044.6 1568.0 1044.7 C1569.3 1044.8 1570.7 1045.0 1572.0 1045.1 C1573.3 1045.3 1574.7 1045.4 1576.0 1045.5 C1577.3 1045.7 1578.7 1045.8 1580.0 1046.0 C1581.3 1046.1 1582.7 1046.2 1584.0 1046.4 C1585.3 1046.5 1586.7 1046.7 1588.0 1046.8 C1589.3 1046.9 1590.7 1047.1 1592.0 1047.2 C1593.3 1047.4 1594.7 1047.5 1596.0 1047.6 C1597.3 1047.8 1598.7 1047.9 1600.0 1048.0 C1601.3 1048.2 1602.7 1048.3 1604.0 1048.4 C1605.3 1048.6 1606.7 1048.7 1608.0 1048.8 C1609.3 1049.0 1610.7 1049.1 1612.0 1049.2 C1613.3 1049.4 1614.7 1049.5 1616.0 1049.6 C1617.3 1049.7 1618.7 1049.9 1620.0 1050.0 C1621.3 1050.1 1622.7 1050.3 1624.0 1050.4 C1625.3 1050.5 1626.7 1050.6 1628.0 1050.8 C1629.3 1050.9 1630.7 1051.0 1632.0 1051.2 C1633.3 1051.3 1634.7 1051.4 1636.0 1051.5 C1637.3 1051.7 1638.7 1051.8 1640.0 1051.9 C1641.3 1052.0 1642.7 1052.1 1644.0 1052.3 C1645.3 1052.4 1646.7 1052.5 1648.0 1052.6 C1649.3 1052.8 1650.7 1052.9 1652.0 1053.0 C1653.3 1053.1 1654.7 1053.2 1656.0 1053.4 C1657.3 1053.5 1658.7 1053.6 1660.0 1053.7 C1661.3 1053.8 1662.7 1053.9 1664.0 1054.1 C1665.3 1054.2 1666.7 1054.3 1668.0 1054.4 C1669.3 1054.5 1670.7 1054.6 1672.0 1054.8 C1673.3 1054.9 1674.7 1055.0 1676.0 1055.1 C1677.3 1055.2 1678.7 1055.3 1680.0 1055.4 C1681.3 1055.5 1682.7 1055.6 1684.0 1055.8 C1685.3 1055.9 1686.7 1056.0 1688.0 1056.1 C1689.3 1056.2 1690.7 1056.3 1692.0 1056.4 C1693.3 1056.5 1694.7 1056.6 1696.0 1056.7 C1697.3 1056.8 1698.7 1057.0 1700.0 1057.1 C1701.3 1057.2 1702.7 1057.3 1704.0 1057.4 C1705.3 1057.5 1706.7 1057.6 1708.0 1057.7 C1709.3 1057.8 1710.7 1057.9 1712.0 1058.0 C1713.3 1058.1 1714.7 1058.2 1716.0 1058.3 C1717.3 1058.4 1718.7 1058.5 1720.0 1058.6 C1721.3 1058.7 1722.7 1058.8 1724.0 1058.9 C1725.3 1059.0 1726.7 1059.1 1728.0 1059.2 C1729.3 1059.3 1730.7 1059.4 1732.0 1059.5 C1733.3 1059.6 1734.7 1059.7 1736.0 1059.8 C1737.3 1059.8 1738.7 1059.9 1740.0 1060.0 C1741.3 1060.1 1742.7 1060.2 1744.0 1060.3 C1745.3 1060.4 1746.7 1060.5 1748.0 1060.6 C1749.3 1060.7 1750.7 1060.8 1752.0 1060.9 C1753.3 1060.9 1755.3 1061.1 1756.0 1061.1 C1756.7 1061.2 1756.3 1061.1 1756.4 1061.1" fill="none" stroke="#FF7519" stroke-width="8.0" stroke-linejoin="round"/>
<path d="M256.0 548.0 C256.7 548.5 258.7 550.2 260.0 551.3 C261.3 552.4 262.7 553.5 264.0 554.7 C265.3 555.8 266.7 556.9 268.0 558.1 C269.3 559.2 270.7 560.4 272.0 561.5 C273.3 562.7 274.7 563.8 276.0 565.0 C277.3 566.1 278.7 567.3 280.0 568.5 C281.3 569.6 282.7 570.8 284.0 572.0 C285.3 573.1 286.7 574.3 288.0 575.5 C289.3 576.7 290.7 577.9 292.0 579.0 C293.3 580.2 294.7 581.4 296.0 582.6 C297.3 583.8 298.7 585.0 300.0 586.2 C301.3 587.4 302.7 588.6 304.0 589.8 C305.3 591.0 306.7 592.2 308.0 593.4 C309.3 594.5 310.7 595.7 312.0 596.9 C313.3 598.1 314.7 599.3 316.0 600.5 C317.3 601.7 318.7 602.9 320.0 604.1 C321.3 605.3 322.7 606.5 324.0 607.7 C325.3 608.9 326.7 610.1 328.0 611.3 C329.3 612.5 330.7 613.7 332.0 614.9 C333.3 616.1 334.7 617.3 336.0 618.5 C337.3 619.7 338.7 620.9 340.0 622.1 C341.3 623.2 342.7 624.4 344.0 625.6 C345.3 626.8 346.7 628.0 348.0 629.1 C349.3 630.3 350.7 631.5 352.0 632.6 C353.3 633.8 354.7 635.0 356.0 636.1 C357.3 637.3 358.7 638.4 360.0 639.6 C361.3 640.7 362.7 641.9 364.0 643.0 C365.3 644.2 366.7 645.3 368.0 646.4 C369.3 647.6 370.7 648.7 372.0 649.8 C373.3 650.9 374.7 652.0 376.0 653.1 C377.3 654.3 378.7 655.4 380.0 656.4 C381.3 657.5 382.7 658.6 384.0 659.7 C385.3 660.8 386.7 661.9 388.0 662.9 C389.3 664.0 390.7 665.0 392.0 666.1 C393.3 667.1 394.7 668.2 396.0 669.2 C397.3 670.3 398.7 671.3 400.0 672.3 C401.3 673.3 402.7 674.3 404.0 675.3 C405.3 676.3 406.7 677.3 408.0 678.3 C409.3 679.3 410.7 680.2 412.0 681.2 C413.3 682.2 414.7 683.1 416.0 684.1 C417.3 685.0 418.7 685.9 420.0 686.8 C421.3 687.8 422.7 688.7 424.0 689.6 C425.3 690.5 426.7 691.4 428.0 692.2 C429.3 693.1 430.7 694.0 432.0 694.8 C433.3 695.7 434.7 696.5 436.0 697.3 C437.3 698.2 438.7 699.0 440.0 699.8 C441.3 700.6 442.7 701.4 444.0 702.2 C445.3 703.0 446.7 703.7 448.0 704.5 C449.3 705.3 450.7 706.0 452.0 706.8 C453.3 707.5 454.7 708.2 456.0 708.9 C457.3 709.7 458.7 710.4 460.0 711.1 C461.3 711.8 462.7 712.4 464.0 713.1 C465.3 713.8 466.7 714.5 468.0 715.1 C469.3 715.8 470.7 716.4 472.0 717.0 C473.3 717.7 474.7 718.3 476.0 718.9 C477.3 719.5 478.7 720.1 480.0 720.7 C481.3 721.3 482.7 721.9 484.0 722.5 C485.3 723.0 486.7 723.6 488.0 724.2 C489.3 724.7 490.7 725.3 492.0 725.8 C493.3 726.3 494.7 726.8 496.0 727.3 C497.3 727.9 498.7 728.4 500.0 728.9 C501.3 729.3 502.7 729.8 504.0 730.3 C505.3 730.8 506.7 731.2 508.0 731.7 C509.3 732.1 510.7 732.6 512.0 733.0 C513.3 733.4 514.7 733.9 516.0 734.3 C517.3 734.7 518.7 735.1 520.0 735.5 C521.3 735.9 522.7 736.3 524.0 736.7 C525.3 737.0 526.7 737.4 528.0 737.8 C529.3 738.1 530.7 738.5 532.0 738.8 C533.3 739.1 534.7 739.5 536.0 739.8 C537.3 740.1 538.7 740.4 540.0 740.7 C541.3 741.0 542.7 741.3 544.0 741.6 C545.3 741.9 546.7 742.2 548.0 742.5 C549.3 742.7 550.7 743.0 552.0 743.2 C553.3 743.5 554.7 743.7 556.0 744.0 C557.3 744.2 558.7 744.4 560.0 744.6 C561.3 744.9 562.7 745.1 564.0 745.3 C565.3 745.5 566.7 745.7 568.0 745.8 C569.3 746.0 570.7 746.2 572.0 746.4 C573.3 746.5 574.7 746.7 576.0 746.8 C577.3 747.0 578.7 747.1 580.0 747.3 C581.3 747.4 582.7 747.5 584.0 747.6 C585.3 747.8 586.7 747.9 588.0 748.0 C589.3 748.1 590.7 748.2 592.0 748.3 C593.3 748.3 594.7 748.4 596.0 748.5 C597.3 748.6 598.7 748.6 600.0 748.7 C601.3 748.7 602.7 748.8 604.0 748.8 C605.3 748.9 606.7 748.9 608.0 748.9 C609.3 749.0 610.7 749.0 612.0 749.0 C613.3 749.0 614.7 749.0 616.0 749.0 C617.3 749.0 618.7 749.0 620.0 749.0 C621.3 749.0 622.7 748.9 624.0 748.9 C625.3 748.9 626.7 748.8 628.0 748.8 C629.3 748.8 630.7 748.7 632.0 748.7 C633.3 748.6 634.7 748.6 636.0 748.5 C637.3 748.4 638.7 748.4 640.0 748.3 C641.3 748.2 642.7 748.1 644.0 748.0 C645.3 747.9 646.7 747.9 648.0 747.8 C649.3 747.7 650.7 747.6 652.0 747.4 C653.3 747.3 654.7 747.2 656.0 747.1 C657.3 747.0 658.7 746.9 660.0 746.7 C661.3 746.6 662.7 746.5 664.0 746.3 C665.3 746.2 666.7 746.1 668.0 745.9 C669.3 745.8 670.7 745.6 672.0 745.5 C673.3 745.3 674.7 745.2 676.0 745.0 C677.3 744.8 678.7 744.7 680.0 744.5 C681.3 744.3 682.7 744.1 684.0 744.0 C685.3 743.8 686.7 743.6 688.0 743.4 C689.3 743.2 690.7 743.1 692.0 742.9 C693.3 742.7 694.7 742.5 696.0 742.3 C697.3 742.1 698.7 741.9 700.0 741.7 C701.3 741.5 702.7 741.3 704.0 741.1 C705.3 740.9 706.7 740.7 708.0 740.4 C709.3 740.2 710.7 740.0 712.0 739.8 C713.3 739.6 714.7 739.4 716.0 739.1 C717.3 738.9 718.7 738.7 720.0 738.5 C721.3 738.2 722.7 738.0 724.0 737.8 C725.3 737.6 726.7 737.3 728.0 737.1 C729.3 736.9 730.7 736.6 732.0 736.4 C733.3 736.2 734.7 735.9 736.0 735.7 C737.3 735.5 738.7 735.2 740.0 735.0 C741.3 734.8 742.7 734.5 744.0 734.3 C745.3 734.0 746.7 733.8 748.0 733.6 C749.3 733.3 750.7 733.1 752.0 732.8 C753.3 732.6 754.7 732.3 756.0 732.1 C757.3 731.9 758.7 731.6 760.0 731.4 C761.3 731.1 762.7 730.9 764.0 730.7 C765.3 730.4 766.7 730.2 768.0 729.9 C769.3 729.7 770.7 729.5 772.0 729.2 C773.3 729.0 774.7 728.7 776.0 728.5 C777.3 728.3 778.7 728.0 780.0 727.8 C781.3 727.6 782.7 727.3 784.0 727.1 C785.3 726.9 786.7 726.6 788.0 726.4 C789.3 726.2 790.7 725.9 792.0 725.7 C793.3 725.5 794.7 725.2 796.0 725.0 C797.3 724.8 798.7 724.6 800.0 724.4 C801.3 724.1 802.7 723.9 804.0 723.7 C805.3 723.5 806.7 723.3 808.0 723.1 C809.3 722.9 810.7 722.6 812.0 722.4 C813.3 722.2 814.7 722.0 816.0 721.8 C817.3 721.6 818.7 721.4 820.0 721.2 C821.3 721.0 822.7 720.9 824.0 720.7 C825.3 720.5 826.7 720.3 828.0 720.1 C829.3 719.9 830.7 719.7 832.0 719.6 C833.3 719.4 834.7 719.2 836.0 719.1 C837.3 718.9 838.7 718.7 840.0 718.6 C841.3 718.4 842.7 718.3 844.0 718.1 C845.3 718.0 846.7 717.8 848.0 717.7 C849.3 717.5 850.7 717.4 852.0 717.2 C853.3 717.1 854.7 717.0 856.0 716.9 C857.3 716.7 858.7 716.6 860.0 716.5 C861.3 716.4 862.7 716.3 864.0 716.2 C865.3 716.1 866.7 716.0 868.0 715.9 C869.3 715.8 870.7 715.7 872.0 715.6 C873.3 715.5 874.7 715.4 876.0 715.4 C877.3 715.3 878.7 715.2 880.0 715.2 C881.3 715.1 882.7 715.0 884.0 715.0 C885.3 714.9 886.7 714.9 888.0 714.9 C889.3 714.8 890.7 714.8 892.0 714.8 C893.3 714.8 894.7 714.7 896.0 714.7 C897.3 714.7 898.7 714.7 900.0 714.7 C901.3 714.7 902.7 714.7 904.0 714.7 C905.3 714.8 906.7 714.8 908.0 714.8 C909.3 714.8 910.7 714.9 912.0 714.9 C913.3 715.0 914.7 715.0 916.0 715.1 C917.3 715.1 918.7 715.2 920.0 715.3 C921.3 715.4 922.7 715.4 924.0 715.5 C925.3 715.6 926.7 715.7 928.0 715.8 C929.3 715.9 930.7 716.1 932.0 716.2 C933.3 716.3 934.7 716.4 936.0 716.6 C937.3 716.7 938.7 716.9 940.0 717.0 C941.3 717.2 942.7 717.3 944.0 717.5 C945.3 717.7 946.7 717.9 948.0 718.1 C949.3 718.3 950.7 718.5 952.0 718.7 C953.3 718.9 954.7 719.1 956.0 719.3 C957.3 719.5 958.7 719.8 960.0 720.0 C961.3 720.2 962.7 720.5 964.0 720.7 C965.3 721.0 966.7 721.2 968.0 721.5 C969.3 721.8 970.7 722.1 972.0 722.4 C973.3 722.6 974.7 722.9 976.0 723.2 C977.3 723.5 978.7 723.9 980.0 724.2 C981.3 724.5 982.7 724.8 984.0 725.2 C985.3 725.5 986.7 725.8 988.0 726.2 C989.3 726.5 990.7 726.9 992.0 727.3 C993.3 727.6 994.7 728.0 996.0 728.4 C997.3 728.8 998.7 729.2 1000.0 729.6 C1001.3 730.0 1002.7 730.4 1004.0 730.8 C1005.3 731.2 1006.7 731.7 1008.0 732.1 C1009.3 732.5 1010.7 733.0 1012.0 733.4 C1013.3 733.9 1014.7 734.3 1016.0 734.8 C1017.3 735.3 1018.7 735.8 1020.0 736.2 C1021.3 736.7 1022.7 737.2 1024.0 737.7 C1025.3 738.2 1026.7 738.7 1028.0 739.2 C1029.3 739.8 1030.7 740.3 1032.0 740.8 C1033.3 741.4 1034.7 741.9 1036.0 742.4 C1037.3 743.0 1038.7 743.6 1040.0 744.1 C1041.3 744.7 1042.7 745.3 1044.0 745.8 C1045.3 746.4 1046.7 747.0 1048.0 747.6 C1049.3 748.2 1050.7 748.8 1052.0 749.4 C1053.3 750.1 1054.7 750.7 1056.0 751.3 C1057.3 752.0 1058.7 752.6 1060.0 753.2 C1061.3 753.9 1062.7 754.6 1064.0 755.2 C1065.3 755.9 1066.7 756.6 1068.0 757.2 C1069.3 757.9 1070.7 758.6 1072.0 759.3 C1073.3 760.0 1074.7 760.7 1076.0 761.4 C1077.3 762.2 1078.7 762.9 1080.0 763.6 C1081.3 764.4 1082.7 765.1 1084.0 765.8 C1085.3 766.6 1086.7 767.4 1088.0 768.1 C1089.3 768.9 1090.7 769.7 1092.0 770.4 C1093.3 771.2 1094.7 772.0 1096.0 772.8 C1097.3 773.6 1098.7 774.4 1100.0 775.3 C1101.3 776.1 1102.7 776.9 1104.0 777.7 C1105.3 778.6 1106.7 779.4 1108.0 780.2 C1109.3 781.1 1110.7 782.0 1112.0 782.8 C1113.3 783.7 1114.7 784.5 1116.0 785.4 C1117.3 786.3 1118.7 787.2 1120.0 788.1 C1121.3 789.0 1122.7 789.9 1124.0 790.8 C1125.3 791.7 1126.7 792.6 1128.0 793.5 C1129.3 794.4 1130.7 795.3 1132.0 796.3 C1133.3 797.2 1134.7 798.1 1136.0 799.1 C1137.3 800.0 1138.7 800.9 1140.0 801.9 C1141.3 802.8 1142.7 803.8 1144.0 804.8 C1145.3 805.7 1146.7 806.7 1148.0 807.6 C1149.3 808.6 1150.7 809.6 1152.0 810.6 C1153.3 811.5 1154.7 812.5 1156.0 813.5 C1157.3 814.5 1158.7 815.5 1160.0 816.5 C1161.3 817.5 1162.7 818.5 1164.0 819.4 C1165.3 820.4 1166.7 821.4 1168.0 822.5 C1169.3 823.5 1170.7 824.5 1172.0 825.5 C1173.3 826.5 1174.7 827.5 1176.0 828.5 C1177.3 829.5 1178.7 830.5 1180.0 831.5 C1181.3 832.6 1182.7 833.6 1184.0 834.6 C1185.3 835.6 1186.7 836.6 1188.0 837.7 C1189.3 838.7 1190.7 839.7 1192.0 840.7 C1193.3 841.8 1194.7 842.8 1196.0 843.8 C1197.3 844.8 1198.7 845.9 1200.0 846.9 C1201.3 847.9 1202.7 848.9 1204.0 850.0 C1205.3 851.0 1206.7 852.0 1208.0 853.1 C1209.3 854.1 1210.7 855.1 1212.0 856.1 C1213.3 857.2 1214.7 858.2 1216.0 859.2 C1217.3 860.2 1218.7 861.2 1220.0 862.3 C1221.3 863.3 1222.7 864.3 1224.0 865.3 C1225.3 866.3 1226.7 867.4 1228.0 868.4 C1229.3 869.4 1230.7 870.4 1232.0 871.4 C1233.3 872.4 1234.7 873.4 1236.0 874.4 C1237.3 875.4 1238.7 876.4 1240.0 877.4 C1241.3 878.4 1242.7 879.4 1244.0 880.4 C1245.3 881.4 1246.7 882.4 1248.0 883.4 C1249.3 884.4 1250.7 885.4 1252.0 886.3 C1253.3 887.3 1254.7 888.3 1256.0 889.3 C1257.3 890.2 1258.7 891.2 1260.0 892.1 C1261.3 893.1 1262.7 894.1 1264.0 895.0 C1265.3 896.0 1266.7 896.9 1268.0 897.8 C1269.3 898.8 1270.7 899.7 1272.0 900.7 C1273.3 901.6 1274.7 902.5 1276.0 903.4 C1277.3 904.3 1278.7 905.3 1280.0 906.2 C1281.3 907.1 1282.7 908.0 1284.0 908.9 C1285.3 909.8 1286.7 910.6 1288.0 911.5 C1289.3 912.4 1290.7 913.3 1292.0 914.2 C1293.3 915.0 1294.7 915.9 1296.0 916.7 C1297.3 917.6 1298.7 918.5 1300.0 919.3 C1301.3 920.1 1302.7 921.0 1304.0 921.8 C1305.3 922.7 1306.7 923.5 1308.0 924.3 C1309.3 925.1 1310.7 925.9 1312.0 926.8 C1313.3 927.6 1314.7 928.4 1316.0 929.2 C1317.3 930.0 1318.7 930.8 1320.0 931.6 C1321.3 932.3 1322.7 933.1 1324.0 933.9 C1325.3 934.7 1326.7 935.5 1328.0 936.2 C1329.3 937.0 1330.7 937.7 1332.0 938.5 C1333.3 939.3 1334.7 940.0 1336.0 940.7 C1337.3 941.5 1338.7 942.2 1340.0 943.0 C1341.3 943.7 1342.7 944.4 1344.0 945.1 C1345.3 945.9 1346.7 946.6 1348.0 947.3 C1349.3 948.0 1350.7 948.7 1352.0 949.4 C1353.3 950.1 1354.7 950.8 1356.0 951.5 C1357.3 952.2 1358.7 952.9 1360.0 953.5 C1361.3 954.2 1362.7 954.9 1364.0 955.6 C1365.3 956.2 1366.7 956.9 1368.0 957.6 C1369.3 958.2 1370.7 958.9 1372.0 959.5 C1373.3 960.2 1374.7 960.8 1376.0 961.5 C1377.3 962.1 1378.7 962.7 1380.0 963.4 C1381.3 964.0 1382.7 964.6 1384.0 965.2 C1385.3 965.8 1386.7 966.5 1388.0 967.1 C1389.3 967.7 1390.7 968.3 1392.0 968.9 C1393.3 969.5 1394.7 970.1 1396.0 970.7 C1397.3 971.3 1398.7 971.8 1400.0 972.4 C1401.3 973.0 1402.7 973.6 1404.0 974.2 C1405.3 974.7 1406.7 975.3 1408.0 975.9 C1409.3 976.4 1410.7 977.0 1412.0 977.5 C1413.3 978.1 1414.7 978.6 1416.0 979.2 C1417.3 979.7 1418.7 980.2 1420.0 980.8 C1421.3 981.3 1422.7 981.8 1424.0 982.4 C1425.3 982.9 1426.7 983.4 1428.0 983.9 C1429.3 984.5 1430.7 985.0 1432.0 985.5 C1433.3 986.0 1434.7 986.5 1436.0 987.0 C1437.3 987.5 1438.7 988.0 1440.0 988.5 C1441.3 989.0 1442.7 989.4 1444.0 989.9 C1445.3 990.4 1446.7 990.9 1448.0 991.4 C1449.3 991.8 1450.7 992.3 1452.0 992.8 C1453.3 993.2 1454.7 993.7 1456.0 994.2 C1457.3 994.6 1458.7 995.1 1460.0 995.5 C1461.3 996.0 1462.7 996.4 1464.0 996.9 C1465.3 997.3 1466.7 997.7 1468.0 998.2 C1469.3 998.6 1470.7 999.0 1472.0 999.5 C1473.3 999.9 1474.7 1000.3 1476.0 1000.7 C1477.3 1001.1 1478.7 1001.6 1480.0 1002.0 C1481.3 1002.4 1482.7 1002.8 1484.0 1003.2 C1485.3 1003.6 1486.7 1004.0 1488.0 1004.4 C1489.3 1004.8 1490.7 1005.2 1492.0 1005.6 C1493.3 1005.9 1494.7 1006.3 1496.0 1006.7 C1497.3 1007.1 1498.7 1007.5 1500.0 1007.8 C1501.3 1008.2 1502.7 1008.6 1504.0 1009.0 C1505.3 1009.3 1506.7 1009.7 1508.0 1010.0 C1509.3 1010.4 1510.7 1010.8 1512.0 1011.1 C1513.3 1011.5 1514.7 1011.8 1516.0 1012.2 C1517.3 1012.5 1518.7 1012.8 1520.0 1013.2 C1521.3 1013.5 1522.7 1013.9 1524.0 1014.2 C1525.3 1014.5 1526.7 1014.9 1528.0 1015.2 C1529.3 1015.5 1530.7 1015.8 1532.0 1016.2 C1533.3 1016.5 1534.7 1016.8 1536.0 1017.1 C1537.3 1017.4 1538.7 1017.7 1540.0 1018.0 C1541.3 1018.3 1542.7 1018.6 1544.0 1019.0 C1545.3 1019.3 1546.7 1019.6 1548.0 1019.8 C1549.3 1020.1 1550.7 1020.4 1552.0 1020.7 C1553.3 1021.0 1554.7 1021.3 1556.0 1021.6 C1557.3 1021.9 1558.7 1022.1 1560.0 1022.4 C1561.3 1022.7 1562.7 1023.0 1564.0 1023.3 C1565.3 1023.5 1566.7 1023.8 1568.0 1024.1 C1569.3 1024.3 1570.7 1024.6 1572.0 1024.9 C1573.3 1025.1 1574.7 1025.4 1576.0 1025.6 C1577.3 1025.9 1578.7 1026.1 1580.0 1026.4 C1581.3 1026.6 1582.7 1026.9 1584.0 1027.1 C1585.3 1027.4 1586.7 1027.6 1588.0 1027.9 C1589.3 1028.1 1590.7 1028.3 1592.0 1028.6 C1593.3 1028.8 1594.7 1029.0 1596.0 1029.3 C1597.3 1029.5 1598.7 1029.7 1600.0 1030.0 C1601.3 1030.2 1602.7 1030.4 1604.0 1030.6 C1605.3 1030.9 1606.7 1031.1 1608.0 1031.3 C1609.3 1031.5 1610.7 1031.7 1612.0 1031.9 C1613.3 1032.1 1614.7 1032.4 1616.0 1032.6 C1617.3 1032.8 1618.7 1033.0 1620.0 1033.2 C1621.3 1033.4 1622.7 1033.6 1624.0 1033.8 C1625.3 1034.0 1626.7 1034.2 1628.0 1034.4 C1629.3 1034.6 1630.7 1034.8 1632.0 1035.0 C1633.3 1035.1 1634.7 1035.3 1636.0 1035.5 C1637.3 1035.7 1638.7 1035.9 1640.0 1036.1 C1641.3 1036.3 1642.7 1036.4 1644.0 1036.6 C1645.3 1036.8 1646.7 1037.0 1648.0 1037.1 C1649.3 1037.3 1650.7 1037.5 1652.0 1037.7 C1653.3 1037.8 1654.7 1038.0 1656.0 1038.2 C1657.3 1038.4 1658.7 1038.5 1660.0 1038.7 C1661.3 1038.8 1662.7 1039.0 1664.0 1039.2 C1665.3 1039.3 1666.7 1039.5 1668.0 1039.7 C1669.3 1039.8 1670.7 1040.0 1672.0 1040.1 C1673.3 1040.3 1674.7 1040.4 1676.0 1040.6 C1677.3 1040.7 1678.7 1040.9 1680.0 1041.0 C1681.3 1041.2 1682.7 1041.3 1684.0 1041.5 C1685.3 1041.6 1686.7 1041.8 1688.0 1041.9 C1689.3 1042.1 1690.7 1042.2 1692.0 1042.4 C1693.3 1042.5 1694.7 1042.6 1696.0 1042.8 C1697.3 1042.9 1698.7 1043.1 1700.0 1043.2 C1701.3 1043.3 1702.7 1043.5 1704.0 1043.6 C1705.3 1043.7 1706.7 1043.9 1708.0 1044.0 C1709.3 1044.1 1710.7 1044.3 1712.0 1044.4 C1713.3 1044.5 1714.7 1044.7 1716.0 1044.8 C1717.3 1044.9 1718.7 1045.0 1720.0 1045.2 C1721.3 1045.3 1722.7 1045.4 1724.0 1045.5 C1725.3 1045.7 1726.7 1045.8 1728.0 1045.9 C1729.3 1046.0 1730.7 1046.2 1732.0 1046.3 C1733.3 1046.4 1734.7 1046.5 1736.0 1046.6 C1737.3 1046.8 1738.7 1046.9 1740.0 1047.0 C1741.3 1047.1 1742.7 1047.2 1744.0 1047.3 C1745.3 1047.5 1746.7 1047.6 1748.0 1047.7 C1749.3 1047.8 1750.7 1047.9 1752.0 1048.0 C1753.3 1048.1 1755.3 1048.3 1756.0 1048.4 C1756.7 1048.4 1756.3 1048.4 1756.4 1048.4" fill="none" stroke="#A5A5A5" stroke-width="7.5" stroke-linejoin="round"/>
<path d="M256.0 576.5 C258.3 577.4 264.5 579.4 270.0 582.0 C275.5 584.6 282.5 588.4 289.0 592.0 C295.5 595.6 302.2 599.8 308.8 603.5 C315.4 607.2 322.4 611.2 328.4 614.5 C334.4 617.8 340.7 620.8 345.0 623.0 C349.3 625.2 351.7 626.3 354.0 627.5 C356.3 628.7 357.0 628.6 359.0 630.0 C361.0 631.4 363.7 634.4 366.0 636.0 C368.3 637.6 370.3 638.7 373.0 639.8 C375.7 640.9 377.2 641.5 382.0 642.4 C386.8 643.3 398.0 644.7 402.0 645.2 C406.0 645.7 404.7 645.4 406.0 645.5 C407.3 645.6 408.7 645.7 410.0 645.8 C411.3 645.8 412.7 645.9 414.0 645.9 C415.3 645.9 416.7 646.0 418.0 646.0 C419.3 646.0 420.7 646.0 422.0 646.0 C423.3 646.0 424.7 645.9 426.0 645.9 C427.3 645.9 428.7 645.8 430.0 645.8 C431.3 645.7 432.7 645.6 434.0 645.5 C435.3 645.4 436.7 645.3 438.0 645.2 C439.3 645.1 440.7 645.0 442.0 644.8 C443.3 644.7 444.7 644.5 446.0 644.4 C447.3 644.2 448.7 644.0 450.0 643.8 C451.3 643.6 452.7 643.4 454.0 643.2 C455.3 643.0 456.7 642.8 458.0 642.5 C459.3 642.3 460.7 642.0 462.0 641.7 C463.3 641.5 464.7 641.2 466.0 640.9 C467.3 640.6 468.7 640.3 470.0 640.0 C471.3 639.6 472.7 639.3 474.0 638.9 C475.3 638.6 476.7 638.2 478.0 637.9 C479.3 637.5 480.7 637.1 482.0 636.7 C483.3 636.3 484.7 635.9 486.0 635.4 C487.3 635.0 488.7 634.6 490.0 634.1 C491.3 633.7 492.7 633.2 494.0 632.7 C495.3 632.2 496.7 631.7 498.0 631.2 C499.3 630.7 500.7 630.2 502.0 629.6 C503.3 629.1 504.7 628.6 506.0 628.0 C507.3 627.4 508.7 626.9 510.0 626.3 C511.3 625.7 512.7 625.1 514.0 624.5 C515.3 623.8 516.7 623.2 518.0 622.6 C519.3 621.9 520.7 621.3 522.0 620.6 C523.3 619.9 524.7 619.2 526.0 618.5 C527.3 617.9 528.7 617.1 530.0 616.4 C531.3 615.7 532.7 615.0 534.0 614.2 C535.3 613.4 536.7 612.7 538.0 611.9 C539.3 611.1 540.7 610.3 542.0 609.5 C543.3 608.7 544.7 607.9 546.0 607.1 C547.3 606.2 548.7 605.4 550.0 604.5 C551.3 603.7 552.7 602.8 554.0 601.9 C555.3 601.0 556.7 600.1 558.0 599.2 C559.3 598.3 560.7 597.3 562.0 596.4 C563.3 595.5 564.7 594.5 566.0 593.5 C567.3 592.5 568.7 591.6 570.0 590.6 C571.3 589.6 572.7 588.6 574.0 587.5 C575.3 586.5 576.7 585.5 578.0 584.4 C579.3 583.3 580.7 582.3 582.0 581.2 C583.3 580.1 584.7 579.0 586.0 577.9 C587.3 576.8 588.7 575.7 590.0 574.5 C591.3 573.4 592.7 572.3 594.0 571.1 C595.3 569.9 596.7 568.8 598.0 567.6 C599.3 566.4 600.7 565.2 602.0 564.0 C603.3 562.7 604.7 561.5 606.0 560.3 C607.3 559.0 608.7 557.8 610.0 556.5 C611.3 555.2 612.7 554.0 614.0 552.7 C615.3 551.4 616.7 550.1 618.0 548.7 C619.3 547.4 620.7 546.1 622.0 544.7 C623.3 543.4 624.7 542.0 626.0 540.6 C627.3 539.3 628.7 537.9 630.0 536.5 C631.3 535.1 632.7 533.7 634.0 532.2 C635.3 530.8 636.7 529.4 638.0 527.9 C639.3 526.5 640.7 525.0 642.0 523.5 C643.3 522.1 644.7 520.6 646.0 519.1 C647.3 517.6 648.7 516.1 650.0 514.5 C651.3 513.0 652.7 511.5 654.0 509.9 C655.3 508.4 656.7 506.8 658.0 505.2 C659.3 503.6 660.7 502.1 662.0 500.5 C663.3 498.9 664.7 497.3 666.0 495.6 C667.3 494.0 668.7 492.4 670.0 490.8 C671.3 489.1 672.7 487.5 674.0 485.8 C675.3 484.1 676.7 482.5 678.0 480.8 C679.3 479.1 680.7 477.4 682.0 475.7 C683.3 474.0 684.7 472.3 686.0 470.6 C687.3 468.9 688.7 467.2 690.0 465.4 C691.3 463.7 692.7 462.0 694.0 460.2 C695.3 458.5 696.7 456.7 698.0 454.9 C699.3 453.2 700.7 451.4 702.0 449.6 C703.3 447.8 704.7 446.0 706.0 444.2 C707.3 442.4 708.7 440.6 710.0 438.8 C711.3 437.0 712.7 435.2 714.0 433.4 C715.3 431.6 716.7 429.7 718.0 427.9 C719.3 426.1 720.7 424.2 722.0 422.4 C723.3 420.5 724.7 418.7 726.0 416.8 C727.3 415.0 728.7 413.1 730.0 411.2 C731.3 409.4 732.7 407.5 734.0 405.6 C735.3 403.8 736.7 401.9 738.0 400.0 C739.3 398.1 740.7 396.2 742.0 394.3 C743.3 392.5 744.7 390.6 746.0 388.7 C747.3 386.8 748.7 384.9 750.0 383.0 C751.3 381.1 752.7 379.2 754.0 377.3 C755.3 375.4 756.7 373.5 758.0 371.6 C759.3 369.7 760.7 367.8 762.0 365.9 C763.3 364.0 764.7 362.1 766.0 360.1 C767.3 358.2 768.7 356.3 770.0 354.4 C771.3 352.5 772.7 350.6 774.0 348.7 C775.3 346.8 776.7 344.9 778.0 343.0 C779.3 341.1 780.7 339.2 782.0 337.3 C783.3 335.4 784.7 333.5 786.0 331.6 C787.3 329.7 788.7 327.8 790.0 325.9 C791.3 324.0 792.7 322.1 794.0 320.3 C795.3 318.4 796.7 316.5 798.0 314.6 C799.3 312.7 800.7 310.9 802.0 309.0 C803.3 307.1 804.7 305.2 806.0 303.4 C807.3 301.5 808.7 299.7 810.0 297.8 C811.3 295.9 812.7 294.1 814.0 292.3 C815.3 290.4 816.7 288.6 818.0 286.7 C819.3 284.9 820.7 283.1 822.0 281.3 C823.3 279.4 825.1 277.1 826.0 275.8 C826.9 274.6 825.4 276.8 827.5 273.8 C829.6 270.8 835.0 262.0 838.8 257.6 C842.6 253.2 846.3 250.7 850.1 247.1 C853.9 243.5 858.6 238.2 861.4 235.8 C864.2 233.4 864.8 234.8 866.7 232.8 C868.6 230.8 869.9 227.0 872.8 223.7 C875.7 220.4 880.3 216.7 884.1 213.2 C887.9 209.7 892.3 205.0 895.4 202.6 C898.5 200.2 900.9 199.5 902.9 198.8 C904.9 198.1 905.7 200.2 907.5 198.6 C909.3 197.0 911.1 191.6 913.6 189.5 C916.1 187.4 919.2 187.7 922.6 185.8 C926.0 183.9 930.1 179.5 933.9 178.2 C937.7 176.9 942.1 179.2 945.2 178.2 C948.4 177.2 949.6 173.3 952.8 172.2 C955.9 171.1 960.3 172.0 964.1 171.4 C967.9 170.8 972.3 168.5 975.4 168.4 C978.5 168.3 980.4 170.0 982.9 170.7 C985.4 171.4 987.1 172.0 990.4 172.8 C993.6 173.6 999.7 174.7 1002.4 175.3 C1005.1 175.9 1005.1 176.0 1006.4 176.4 C1007.7 176.8 1009.1 177.2 1010.4 177.7 C1011.7 178.1 1013.1 178.7 1014.4 179.2 C1015.7 179.8 1017.1 180.4 1018.4 181.0 C1019.7 181.7 1021.1 182.4 1022.4 183.1 C1023.7 183.8 1025.1 184.6 1026.4 185.4 C1027.7 186.2 1029.1 187.0 1030.4 187.9 C1031.7 188.8 1033.1 189.7 1034.4 190.7 C1035.7 191.7 1037.1 192.7 1038.4 193.8 C1039.7 194.8 1041.1 195.9 1042.4 197.0 C1043.7 198.2 1045.1 199.4 1046.4 200.6 C1047.7 201.8 1049.1 203.1 1050.4 204.4 C1051.7 205.7 1053.1 207.0 1054.4 208.4 C1055.7 209.8 1057.1 211.2 1058.4 212.7 C1059.7 214.1 1061.1 215.7 1062.4 217.2 C1063.7 218.8 1065.1 220.4 1066.4 222.0 C1067.7 223.6 1069.1 225.3 1070.4 227.0 C1071.7 228.7 1073.1 230.5 1074.4 232.3 C1075.7 234.1 1077.1 236.0 1078.4 237.9 C1079.7 239.7 1081.1 241.7 1082.4 243.6 C1083.7 245.6 1085.1 247.6 1086.4 249.7 C1087.7 251.7 1089.1 253.8 1090.4 256.0 C1091.7 258.1 1093.1 260.3 1094.4 262.5 C1095.7 264.8 1097.1 267.0 1098.4 269.3 C1099.7 271.6 1101.1 274.0 1102.4 276.3 C1103.7 278.7 1105.1 281.1 1106.4 283.6 C1107.7 286.0 1109.1 288.5 1110.4 291.0 C1111.7 293.6 1113.1 296.1 1114.4 298.7 C1115.7 301.3 1117.1 304.0 1118.4 306.6 C1119.7 309.3 1121.1 312.0 1122.4 314.7 C1123.7 317.4 1125.1 320.2 1126.4 323.0 C1127.7 325.8 1129.1 328.6 1130.4 331.5 C1131.7 334.3 1133.1 337.2 1134.4 340.1 C1135.7 343.1 1137.1 346.0 1138.4 349.0 C1139.7 352.0 1141.1 355.0 1142.4 358.0 C1143.7 361.0 1145.1 364.1 1146.4 367.2 C1147.7 370.3 1149.1 373.4 1150.4 376.5 C1151.7 379.6 1153.1 382.8 1154.4 386.0 C1155.7 389.2 1157.1 392.4 1158.4 395.6 C1159.7 398.8 1161.1 402.1 1162.4 405.4 C1163.7 408.6 1165.1 411.9 1166.4 415.2 C1167.7 418.5 1169.1 421.9 1170.4 425.2 C1171.7 428.5 1173.1 431.9 1174.4 435.3 C1175.7 438.6 1177.1 442.0 1178.4 445.4 C1179.7 448.8 1181.1 452.2 1182.4 455.7 C1183.7 459.1 1185.1 462.5 1186.4 465.9 C1187.7 469.4 1189.1 472.8 1190.4 476.3 C1191.7 479.7 1193.1 483.2 1194.4 486.6 C1195.7 490.1 1197.1 493.6 1198.4 497.0 C1199.7 500.5 1201.1 504.0 1202.4 507.4 C1203.7 510.9 1205.1 514.4 1206.4 517.9 C1207.7 521.3 1209.1 524.8 1210.4 528.3 C1211.7 531.7 1213.1 535.2 1214.4 538.6 C1215.7 542.1 1217.1 545.6 1218.4 549.0 C1219.7 552.4 1221.1 555.9 1222.4 559.3 C1223.7 562.8 1225.1 566.2 1226.4 569.6 C1227.7 573.0 1229.1 576.5 1230.4 579.9 C1231.7 583.3 1233.1 586.7 1234.4 590.0 C1235.7 593.4 1237.1 596.8 1238.4 600.2 C1239.7 603.5 1241.1 606.9 1242.4 610.2 C1243.7 613.6 1245.1 616.9 1246.4 620.2 C1247.7 623.5 1249.1 626.8 1250.4 630.1 C1251.7 633.4 1253.1 636.7 1254.4 639.9 C1255.7 643.2 1257.1 646.4 1258.4 649.6 C1259.7 652.8 1261.1 656.0 1262.4 659.2 C1263.7 662.4 1265.1 665.6 1266.4 668.7 C1267.7 671.9 1269.1 675.0 1270.4 678.1 C1271.7 681.2 1273.1 684.3 1274.4 687.3 C1275.7 690.4 1277.1 693.4 1278.4 696.4 C1279.7 699.5 1281.1 702.4 1282.4 705.4 C1283.7 708.4 1285.1 711.3 1286.4 714.3 C1287.7 717.2 1289.1 720.1 1290.4 723.0 C1291.7 725.9 1293.1 728.7 1294.4 731.6 C1295.7 734.4 1297.1 737.2 1298.4 740.0 C1299.7 742.8 1301.1 745.6 1302.4 748.3 C1303.7 751.0 1305.1 753.8 1306.4 756.5 C1307.7 759.2 1309.1 761.8 1310.4 764.5 C1311.7 767.1 1313.1 769.8 1314.4 772.4 C1315.7 775.0 1317.1 777.5 1318.4 780.1 C1319.7 782.6 1321.1 785.2 1322.4 787.7 C1323.7 790.2 1325.1 792.6 1326.4 795.1 C1327.7 797.5 1329.1 800.0 1330.4 802.4 C1331.7 804.8 1333.1 807.1 1334.4 809.5 C1335.7 811.8 1337.1 814.2 1338.4 816.5 C1339.7 818.8 1341.1 821.0 1342.4 823.3 C1343.7 825.5 1345.1 827.8 1346.4 830.0 C1347.7 832.2 1349.1 834.3 1350.4 836.5 C1351.7 838.6 1353.1 840.8 1354.4 842.9 C1355.7 845.0 1357.1 847.0 1358.4 849.1 C1359.7 851.1 1361.1 853.2 1362.4 855.2 C1363.7 857.2 1365.1 859.2 1366.4 861.1 C1367.7 863.1 1369.1 865.0 1370.4 866.9 C1371.7 868.8 1373.1 870.7 1374.4 872.6 C1375.7 874.4 1377.1 876.3 1378.4 878.1 C1379.7 879.9 1381.1 881.7 1382.4 883.5 C1383.7 885.3 1385.1 887.0 1386.4 888.7 C1387.7 890.5 1389.1 892.2 1390.4 893.9 C1391.7 895.5 1393.1 897.2 1394.4 898.9 C1395.7 900.5 1397.1 902.1 1398.4 903.7 C1399.7 905.3 1401.1 906.9 1402.4 908.5 C1403.7 910.0 1405.1 911.5 1406.4 913.1 C1407.7 914.6 1409.1 916.1 1410.4 917.6 C1411.7 919.0 1413.1 920.5 1414.4 921.9 C1415.7 923.4 1417.1 924.8 1418.4 926.2 C1419.7 927.6 1421.1 928.9 1422.4 930.3 C1423.7 931.6 1425.1 933.0 1426.4 934.3 C1427.7 935.6 1429.1 936.9 1430.4 938.2 C1431.7 939.5 1433.1 940.7 1434.4 942.0 C1435.7 943.2 1437.1 944.4 1438.4 945.6 C1439.7 946.9 1441.1 948.0 1442.4 949.2 C1443.7 950.4 1445.1 951.5 1446.4 952.7 C1447.7 953.8 1449.1 954.9 1450.4 956.0 C1451.7 957.1 1453.1 958.2 1454.4 959.3 C1455.7 960.3 1457.1 961.4 1458.4 962.4 C1459.7 963.5 1461.1 964.5 1462.4 965.5 C1463.7 966.5 1465.1 967.5 1466.4 968.4 C1467.7 969.4 1469.1 970.4 1470.4 971.3 C1471.7 972.3 1473.1 973.2 1474.4 974.1 C1475.7 975.0 1477.1 975.9 1478.4 976.8 C1479.7 977.7 1481.1 978.5 1482.4 979.4 C1483.7 980.2 1485.1 981.1 1486.4 981.9 C1487.7 982.7 1489.1 983.5 1490.4 984.3 C1491.7 985.2 1493.1 985.9 1494.4 986.7 C1495.7 987.5 1497.1 988.2 1498.4 989.0 C1499.7 989.7 1501.1 990.5 1502.4 991.2 C1503.7 991.9 1505.1 992.6 1506.4 993.4 C1507.7 994.1 1509.1 994.7 1510.4 995.4 C1511.7 996.1 1513.1 996.8 1514.4 997.4 C1515.7 998.1 1517.1 998.7 1518.4 999.4 C1519.7 1000.0 1521.1 1000.6 1522.4 1001.2 C1523.7 1001.9 1525.1 1002.5 1526.4 1003.1 C1527.7 1003.6 1529.1 1004.2 1530.4 1004.8 C1531.7 1005.4 1533.1 1006.0 1534.4 1006.5 C1535.7 1007.1 1537.1 1007.6 1538.4 1008.2 C1539.7 1008.7 1541.1 1009.2 1542.4 1009.8 C1543.7 1010.3 1545.1 1010.8 1546.4 1011.3 C1547.7 1011.8 1549.1 1012.3 1550.4 1012.8 C1551.7 1013.3 1553.1 1013.8 1554.4 1014.3 C1555.7 1014.7 1557.1 1015.2 1558.4 1015.7 C1559.7 1016.1 1561.1 1016.6 1562.4 1017.0 C1563.7 1017.5 1565.1 1017.9 1566.4 1018.4 C1567.7 1018.8 1569.1 1019.2 1570.4 1019.7 C1571.7 1020.1 1573.1 1020.5 1574.4 1020.9 C1575.7 1021.4 1577.1 1021.8 1578.4 1022.2 C1579.7 1022.6 1581.1 1023.0 1582.4 1023.4 C1583.7 1023.8 1585.1 1024.2 1586.4 1024.6 C1587.7 1025.0 1589.1 1025.3 1590.4 1025.7 C1591.7 1026.1 1593.1 1026.5 1594.4 1026.9 C1595.7 1027.2 1597.1 1027.6 1598.4 1028.0 C1599.7 1028.3 1601.1 1028.7 1602.4 1029.1 C1603.7 1029.4 1605.1 1029.8 1606.4 1030.2 C1607.7 1030.5 1609.1 1030.9 1610.4 1031.2 C1611.7 1031.6 1613.1 1031.9 1614.4 1032.3 C1615.7 1032.6 1617.1 1033.0 1618.4 1033.3 C1619.7 1033.7 1621.1 1034.0 1622.4 1034.4 C1623.7 1034.7 1625.1 1035.0 1626.4 1035.4 C1627.7 1035.7 1629.1 1036.0 1630.4 1036.4 C1631.7 1036.7 1633.1 1037.0 1634.4 1037.4 C1635.7 1037.7 1637.1 1038.0 1638.4 1038.3 C1639.7 1038.7 1641.1 1039.0 1642.4 1039.3 C1643.7 1039.6 1645.1 1039.9 1646.4 1040.2 C1647.7 1040.5 1649.1 1040.8 1650.4 1041.1 C1651.7 1041.4 1653.1 1041.7 1654.4 1042.0 C1655.7 1042.3 1657.1 1042.6 1658.4 1042.9 C1659.7 1043.2 1661.1 1043.5 1662.4 1043.8 C1663.7 1044.0 1665.1 1044.3 1666.4 1044.6 C1667.7 1044.9 1669.1 1045.1 1670.4 1045.4 C1671.7 1045.7 1673.1 1045.9 1674.4 1046.2 C1675.7 1046.4 1677.1 1046.7 1678.4 1046.9 C1679.7 1047.2 1681.1 1047.4 1682.4 1047.7 C1683.7 1047.9 1685.1 1048.2 1686.4 1048.4 C1687.7 1048.6 1689.1 1048.8 1690.4 1049.1 C1691.7 1049.3 1693.1 1049.5 1694.4 1049.7 C1695.7 1049.9 1697.1 1050.2 1698.4 1050.4 C1699.7 1050.6 1701.1 1050.8 1702.4 1051.0 C1703.7 1051.2 1705.1 1051.3 1706.4 1051.5 C1707.7 1051.7 1709.1 1051.9 1710.4 1052.1 C1711.7 1052.2 1713.1 1052.4 1714.4 1052.6 C1715.7 1052.7 1717.1 1052.9 1718.4 1053.1 C1719.7 1053.2 1721.1 1053.4 1722.4 1053.5 C1723.7 1053.7 1725.1 1053.8 1726.4 1053.9 C1727.7 1054.1 1729.1 1054.2 1730.4 1054.3 C1731.7 1054.4 1733.1 1054.5 1734.4 1054.7 C1735.7 1054.8 1737.1 1054.9 1738.4 1055.0 C1739.7 1055.1 1741.1 1055.2 1742.4 1055.2 C1743.7 1055.3 1745.1 1055.4 1746.4 1055.5 C1747.7 1055.6 1749.1 1055.6 1750.4 1055.7 C1751.7 1055.7 1753.4 1055.8 1754.4 1055.8 C1755.4 1055.9 1756.1 1055.9 1756.4 1055.9" fill="none" stroke="#FFC000" stroke-width="8.0" stroke-linejoin="round"/>
<path d="M235.5 1083.5 H256.2 M238.5 1031.3 H256.2 M235.5 979.1 H256.2 M238.5 926.9 H256.2 M235.5 874.7 H256.2 M238.5 822.5 H256.2 M235.5 770.4 H256.2 M238.5 718.2 H256.2 M235.5 666.0 H256.2 M238.5 613.8 H256.2 M235.5 561.6 H256.2 M238.5 509.4 H256.2 M235.5 457.2 H256.2 M238.5 405.0 H256.2 M235.5 352.8 H256.2 M238.5 300.7 H256.2 M235.5 248.5 H256.2 M238.5 196.3 H256.2 M235.5 144.1 H256.2 M256.2 1083.5 V1103.5 M381.1 1083.5 V1097.5 M506.0 1083.5 V1103.5 M631.0 1083.5 V1097.5 M755.9 1083.5 V1103.5 M880.8 1083.5 V1097.5 M1005.8 1083.5 V1103.5 M1130.7 1083.5 V1097.5 M1255.6 1083.5 V1103.5 M1380.5 1083.5 V1097.5 M1505.5 1083.5 V1103.5 M1630.4 1083.5 V1097.5 M1755.3 1083.5 V1103.5" stroke="#000" stroke-width="5.0" fill="none"/>
<path d="M256.2 141.5 V1083.5 H1757.5" stroke="#000" stroke-width="5.0" fill="none" stroke-linejoin="miter"/>
<text transform="translate(199 1107.0) scale(1 1.040)" font-size="68" text-anchor="end">0</text>
<text transform="translate(199 1002.6) scale(1 1.040)" font-size="68" text-anchor="end">0.2</text>
<text transform="translate(199 898.2) scale(1 1.040)" font-size="68" text-anchor="end">0.4</text>
<text transform="translate(199 793.9) scale(1 1.040)" font-size="68" text-anchor="end">0.6</text>
<text transform="translate(199 689.5) scale(1 1.040)" font-size="68" text-anchor="end">0.8</text>
<text transform="translate(199 585.1) scale(1 1.040)" font-size="68" text-anchor="end">1</text>
<text transform="translate(199 480.7) scale(1 1.040)" font-size="68" text-anchor="end">1.2</text>
<text transform="translate(199 376.3) scale(1 1.040)" font-size="68" text-anchor="end">1.4</text>
<text transform="translate(199 272.0) scale(1 1.040)" font-size="68" text-anchor="end">1.6</text>
<text transform="translate(199 167.6) scale(1 1.040)" font-size="68" text-anchor="end">1.8</text>
<text transform="translate(257.2 1184) scale(1 1.040)" font-size="68" text-anchor="middle">400</text>
<text transform="translate(507.0 1184) scale(1 1.040)" font-size="68" text-anchor="middle">450</text>
<text transform="translate(756.9 1184) scale(1 1.040)" font-size="68" text-anchor="middle">500</text>
<text transform="translate(1006.8 1184) scale(1 1.040)" font-size="68" text-anchor="middle">550</text>
<text transform="translate(1256.6 1184) scale(1 1.040)" font-size="68" text-anchor="middle">600</text>
<text transform="translate(1506.5 1184) scale(1 1.040)" font-size="68" text-anchor="middle">650</text>
<text transform="translate(1756.3 1184) scale(1 1.040)" font-size="68" text-anchor="middle">700</text>
<text x="1007.8" y="1282.3" font-size="72" text-anchor="middle" textLength="549.7" lengthAdjust="spacing">Wavelength (nm)</text>
<text transform="translate(72.8 615.6) rotate(-90)" x="0" y="0" font-size="72" text-anchor="middle" textLength="390.4" lengthAdjust="spacing">Absorbance</text>
<text x="1138" y="98" font-size="84">mBQ (dark)</text>
<text x="1138.5" y="666" font-size="72">light + HRP</text>
<text x="1213.5" y="898.8" font-size="72" textLength="136" lengthAdjust="spacing">light</text>
<path d="M1122.0 80.3 L1026.9 137.7" stroke="#000" stroke-width="4.4" stroke-linecap="round"/><path d="M1007.2 149.6 L1023.2 123.8 L1037.4 147.5 Z" fill="#000"/>
<path d="M1122.2 641.5 L1026.9 699.1" stroke="#000" stroke-width="4.4" stroke-linecap="round"/><path d="M1007.2 711.0 L1023.2 685.2 L1037.4 708.8 Z" fill="#000"/>
<path d="M1199.2 885.0 L1103.6 943.3" stroke="#000" stroke-width="4.4" stroke-linecap="round"/><path d="M1084.0 955.3 L1099.9 929.5 L1114.2 953.0 Z" fill="#000"/>
</g></svg></div></body></html>
